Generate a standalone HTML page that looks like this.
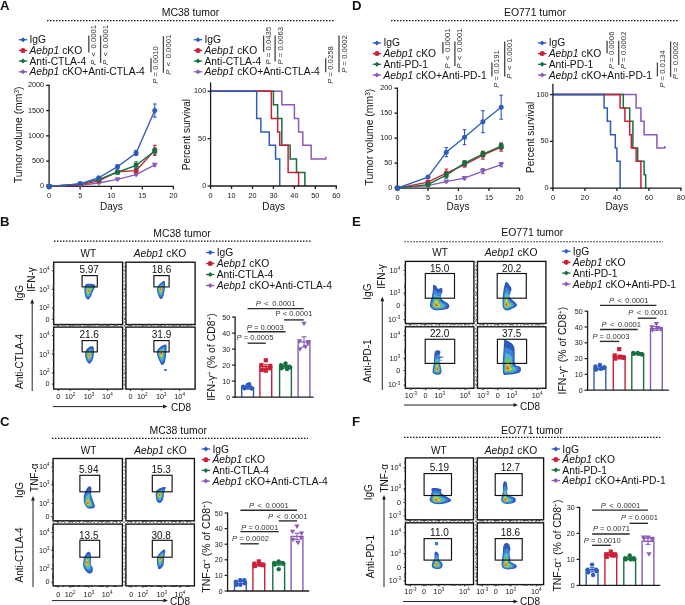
<!DOCTYPE html><html><head><meta charset="utf-8"><style>html,body{margin:0;padding:0;background:#fff;width:685px;height:605px;overflow:hidden}svg{display:block;will-change:transform}text{font-family:"Liberation Sans", sans-serif}</style></head><body>
<svg width="685" height="605" viewBox="0 0 685 605">
<defs><filter id="bl" x="-20%" y="-20%" width="140%" height="140%"><feGaussianBlur stdDeviation="0.35"/></filter></defs><rect width="685" height="605" fill="#fff"/><text x="0.00" y="9.70" font-size="13.2" text-anchor="start" font-weight="bold" fill="#111" style="">A</text>
<text x="190.50" y="16.00" font-size="10.45" text-anchor="middle" font-weight="normal" fill="#111" style="">MC38 tumor</text>
<line x1="47.00" y1="20.60" x2="334.00" y2="20.60" stroke="#111" stroke-width="1.1" stroke-dasharray="1.5 1.5"/>
<line x1="18.80" y1="39.70" x2="27.20" y2="39.70" stroke="#2e5cbe" stroke-width="1.3" />
<path d="M20.50,39.70 L23.00,37.20 L25.50,39.70 L23.00,42.20 Z" fill="#2e5cbe"/>
<text x="29.50" y="43.20" font-size="10.30" fill="#111">IgG</text>
<line x1="18.80" y1="50.40" x2="27.20" y2="50.40" stroke="#cc2038" stroke-width="1.3" />
<circle cx="23.00" cy="50.40" r="2.5" fill="#cc2038"/>
<text x="29.50" y="53.90" font-size="10.30" fill="#111"><tspan font-style="italic">Aebp1</tspan> cKO</text>
<line x1="18.80" y1="61.10" x2="27.20" y2="61.10" stroke="#177040" stroke-width="1.3" />
<path d="M20.50,61.10 L23.00,58.60 L25.50,61.10 L23.00,63.60 Z" fill="#177040"/>
<text x="29.50" y="64.60" font-size="10.30" fill="#111">Anti-CTLA-4</text>
<line x1="18.80" y1="71.80" x2="27.20" y2="71.80" stroke="#8a5cb8" stroke-width="1.3" />
<path d="M20.50,71.80 L23.00,69.30 L25.50,71.80 L23.00,74.30 Z" fill="#8a5cb8"/>
<text x="29.50" y="75.30" font-size="10.30" fill="#111"><tspan font-style="italic">Aebp1</tspan> cKO+Anti-CTLA-4</text>
<line x1="193.80" y1="39.70" x2="202.20" y2="39.70" stroke="#2e5cbe" stroke-width="1.3" />
<path d="M195.50,39.70 L198.00,37.20 L200.50,39.70 L198.00,42.20 Z" fill="#2e5cbe"/>
<text x="204.50" y="43.20" font-size="10.30" fill="#111">IgG</text>
<line x1="193.80" y1="50.40" x2="202.20" y2="50.40" stroke="#cc2038" stroke-width="1.3" />
<circle cx="198.00" cy="50.40" r="2.5" fill="#cc2038"/>
<text x="204.50" y="53.90" font-size="10.30" fill="#111"><tspan font-style="italic">Aebp1</tspan> cKO</text>
<line x1="193.80" y1="61.10" x2="202.20" y2="61.10" stroke="#177040" stroke-width="1.3" />
<path d="M195.50,61.10 L198.00,58.60 L200.50,61.10 L198.00,63.60 Z" fill="#177040"/>
<text x="204.50" y="64.60" font-size="10.30" fill="#111">Anti-CTLA-4</text>
<line x1="193.80" y1="71.80" x2="202.20" y2="71.80" stroke="#8a5cb8" stroke-width="1.3" />
<path d="M195.50,71.80 L198.00,69.30 L200.50,71.80 L198.00,74.30 Z" fill="#8a5cb8"/>
<text x="204.50" y="75.30" font-size="10.30" fill="#111"><tspan font-style="italic">Aebp1</tspan> cKO+Anti-CTLA-4</text>
<line x1="88.80" y1="35.50" x2="88.80" y2="52.50" stroke="#444" stroke-width="1.3" />
<text x="0" y="0" font-size="7.7" text-anchor="middle" fill="#333" transform="translate(96.00 45.00) rotate(-90)"><tspan font-style="italic">P</tspan> <tspan dx="1.3">&lt;</tspan><tspan dx="1.3"> 0.0001</tspan></text>
<line x1="100.60" y1="35.50" x2="100.60" y2="63.00" stroke="#444" stroke-width="1.3" />
<text x="0" y="0" font-size="7.7" text-anchor="middle" fill="#333" transform="translate(107.70 45.00) rotate(-90)"><tspan font-style="italic">P</tspan> <tspan dx="1.3">&lt;</tspan><tspan dx="1.3"> 0.0001</tspan></text>
<line x1="151.00" y1="58.30" x2="151.00" y2="72.20" stroke="#444" stroke-width="1.3" />
<text x="0" y="0" font-size="7.7" text-anchor="middle" fill="#333" transform="translate(158.20 65.00) rotate(-90)"><tspan font-style="italic">P</tspan> = 0.0010</text>
<line x1="163.40" y1="36.10" x2="163.40" y2="72.80" stroke="#444" stroke-width="1.3" />
<text x="0" y="0" font-size="7.7" text-anchor="middle" fill="#333" transform="translate(170.90 54.80) rotate(-90)"><tspan font-style="italic">P</tspan> <tspan dx="1.3">&lt;</tspan><tspan dx="1.3"> 0.0001</tspan></text>
<line x1="263.60" y1="35.60" x2="263.60" y2="51.80" stroke="#444" stroke-width="1.3" />
<text x="0" y="0" font-size="7.7" text-anchor="middle" fill="#333" transform="translate(271.30 45.70) rotate(-90)"><tspan font-style="italic">P</tspan> = 0.0435</text>
<line x1="275.10" y1="35.60" x2="275.10" y2="61.40" stroke="#444" stroke-width="1.3" />
<text x="0" y="0" font-size="7.7" text-anchor="middle" fill="#333" transform="translate(282.90 45.70) rotate(-90)"><tspan font-style="italic">P</tspan> = 0.0063</text>
<line x1="325.70" y1="58.30" x2="325.70" y2="72.30" stroke="#444" stroke-width="1.3" />
<text x="0" y="0" font-size="7.7" text-anchor="middle" fill="#333" transform="translate(333.20 65.00) rotate(-90)"><tspan font-style="italic">P</tspan> = 0.0258</text>
<line x1="339.00" y1="35.60" x2="339.00" y2="72.30" stroke="#444" stroke-width="1.3" />
<text x="0" y="0" font-size="7.7" text-anchor="middle" fill="#333" transform="translate(346.50 54.00) rotate(-90)"><tspan font-style="italic">P</tspan> = 0.0002</text>
<line x1="49.10" y1="84.70" x2="49.10" y2="187.00" stroke="#1c1c1c" stroke-width="1.3" />
<line x1="48.50" y1="186.40" x2="174.00" y2="186.40" stroke="#1c1c1c" stroke-width="1.3" />
<line x1="46.10" y1="186.40" x2="49.10" y2="186.40" stroke="#1c1c1c" stroke-width="1.3" />
<text x="44.10" y="188.40" font-size="7.25" text-anchor="end" font-weight="normal" fill="#151515" style="">0</text>
<line x1="46.10" y1="161.12" x2="49.10" y2="161.12" stroke="#1c1c1c" stroke-width="1.3" />
<text x="44.10" y="163.12" font-size="7.25" text-anchor="end" font-weight="normal" fill="#151515" style="">500</text>
<line x1="46.10" y1="135.85" x2="49.10" y2="135.85" stroke="#1c1c1c" stroke-width="1.3" />
<text x="44.10" y="137.85" font-size="7.25" text-anchor="end" font-weight="normal" fill="#151515" style="">1000</text>
<line x1="46.10" y1="110.58" x2="49.10" y2="110.58" stroke="#1c1c1c" stroke-width="1.3" />
<text x="44.10" y="112.58" font-size="7.25" text-anchor="end" font-weight="normal" fill="#151515" style="">1500</text>
<line x1="46.10" y1="85.30" x2="49.10" y2="85.30" stroke="#1c1c1c" stroke-width="1.3" />
<text x="44.10" y="87.30" font-size="7.25" text-anchor="end" font-weight="normal" fill="#151515" style="">2000</text>
<line x1="49.10" y1="186.40" x2="49.10" y2="189.40" stroke="#1c1c1c" stroke-width="1.3" />
<text x="49.10" y="198.00" font-size="7.25" text-anchor="middle" font-weight="normal" fill="#151515" style="">0</text>
<line x1="80.17" y1="186.40" x2="80.17" y2="189.40" stroke="#1c1c1c" stroke-width="1.3" />
<text x="80.17" y="198.00" font-size="7.25" text-anchor="middle" font-weight="normal" fill="#151515" style="">5</text>
<line x1="111.25" y1="186.40" x2="111.25" y2="189.40" stroke="#1c1c1c" stroke-width="1.3" />
<text x="111.25" y="198.00" font-size="7.25" text-anchor="middle" font-weight="normal" fill="#151515" style="">10</text>
<line x1="142.32" y1="186.40" x2="142.32" y2="189.40" stroke="#1c1c1c" stroke-width="1.3" />
<text x="142.32" y="198.00" font-size="7.25" text-anchor="middle" font-weight="normal" fill="#151515" style="">15</text>
<line x1="173.40" y1="186.40" x2="173.40" y2="189.40" stroke="#1c1c1c" stroke-width="1.3" />
<text x="173.40" y="198.00" font-size="7.25" text-anchor="middle" font-weight="normal" fill="#151515" style="">20</text>
<text x="111.40" y="209.50" font-size="10" text-anchor="middle" font-weight="normal" fill="#111" style="">Days</text>
<text x="0" y="0" font-size="10.4" text-anchor="middle" fill="#111" transform="translate(22.00 134.85) rotate(-90)">Tumor volume (mm<tspan font-size="6.5" dy="-3.5">3</tspan><tspan dy="3.5">)</tspan></text>
<polyline points="49.10,186.40 80.17,185.39 98.82,183.01 117.47,179.32 136.11,174.57 154.75,164.87" fill="none" stroke="#8a5cb8" stroke-width="1.35"/>
<path d="M46.10,184.30 L52.10,184.30 L49.10,189.40 Z" fill="#8a5cb8"/>
<line x1="80.17" y1="185.59" x2="80.17" y2="185.19" stroke="#8a5cb8" stroke-width="1.1" />
<line x1="78.38" y1="185.19" x2="81.97" y2="185.19" stroke="#8a5cb8" stroke-width="1.1" />
<line x1="78.38" y1="185.59" x2="81.97" y2="185.59" stroke="#8a5cb8" stroke-width="1.1" />
<path d="M77.17,183.29 L83.17,183.29 L80.17,188.39 Z" fill="#8a5cb8"/>
<line x1="98.82" y1="183.42" x2="98.82" y2="182.61" stroke="#8a5cb8" stroke-width="1.1" />
<line x1="97.02" y1="182.61" x2="100.62" y2="182.61" stroke="#8a5cb8" stroke-width="1.1" />
<line x1="97.02" y1="183.42" x2="100.62" y2="183.42" stroke="#8a5cb8" stroke-width="1.1" />
<path d="M95.82,180.91 L101.82,180.91 L98.82,186.01 Z" fill="#8a5cb8"/>
<line x1="117.47" y1="179.93" x2="117.47" y2="178.72" stroke="#8a5cb8" stroke-width="1.1" />
<line x1="115.67" y1="178.72" x2="119.27" y2="178.72" stroke="#8a5cb8" stroke-width="1.1" />
<line x1="115.67" y1="179.93" x2="119.27" y2="179.93" stroke="#8a5cb8" stroke-width="1.1" />
<path d="M114.47,177.22 L120.47,177.22 L117.47,182.32 Z" fill="#8a5cb8"/>
<line x1="136.11" y1="175.58" x2="136.11" y2="173.56" stroke="#8a5cb8" stroke-width="1.1" />
<line x1="134.31" y1="173.56" x2="137.91" y2="173.56" stroke="#8a5cb8" stroke-width="1.1" />
<line x1="134.31" y1="175.58" x2="137.91" y2="175.58" stroke="#8a5cb8" stroke-width="1.1" />
<path d="M133.11,172.47 L139.11,172.47 L136.11,177.57 Z" fill="#8a5cb8"/>
<line x1="154.75" y1="166.13" x2="154.75" y2="163.60" stroke="#8a5cb8" stroke-width="1.1" />
<line x1="152.95" y1="163.60" x2="156.56" y2="163.60" stroke="#8a5cb8" stroke-width="1.1" />
<line x1="152.95" y1="166.13" x2="156.56" y2="166.13" stroke="#8a5cb8" stroke-width="1.1" />
<path d="M151.75,162.77 L157.75,162.77 L154.75,167.87 Z" fill="#8a5cb8"/>
<polyline points="49.10,186.40 80.17,184.88 98.82,180.84 117.47,171.74 136.11,170.58 154.75,150.36" fill="none" stroke="#cc2038" stroke-width="1.35"/>
<circle cx="49.10" cy="186.40" r="2.5" fill="#cc2038"/>
<line x1="80.17" y1="185.29" x2="80.17" y2="184.48" stroke="#cc2038" stroke-width="1.1" />
<line x1="78.38" y1="184.48" x2="81.97" y2="184.48" stroke="#cc2038" stroke-width="1.1" />
<line x1="78.38" y1="185.29" x2="81.97" y2="185.29" stroke="#cc2038" stroke-width="1.1" />
<circle cx="80.17" cy="184.88" r="2.5" fill="#cc2038"/>
<line x1="98.82" y1="181.60" x2="98.82" y2="180.08" stroke="#cc2038" stroke-width="1.1" />
<line x1="97.02" y1="180.08" x2="100.62" y2="180.08" stroke="#cc2038" stroke-width="1.1" />
<line x1="97.02" y1="181.60" x2="100.62" y2="181.60" stroke="#cc2038" stroke-width="1.1" />
<circle cx="98.82" cy="180.84" r="2.5" fill="#cc2038"/>
<line x1="117.47" y1="173.26" x2="117.47" y2="170.22" stroke="#cc2038" stroke-width="1.1" />
<line x1="115.67" y1="170.22" x2="119.27" y2="170.22" stroke="#cc2038" stroke-width="1.1" />
<line x1="115.67" y1="173.26" x2="119.27" y2="173.26" stroke="#cc2038" stroke-width="1.1" />
<circle cx="117.47" cy="171.74" r="2.5" fill="#cc2038"/>
<line x1="136.11" y1="172.60" x2="136.11" y2="168.56" stroke="#cc2038" stroke-width="1.1" />
<line x1="134.31" y1="168.56" x2="137.91" y2="168.56" stroke="#cc2038" stroke-width="1.1" />
<line x1="134.31" y1="172.60" x2="137.91" y2="172.60" stroke="#cc2038" stroke-width="1.1" />
<circle cx="136.11" cy="170.58" r="2.5" fill="#cc2038"/>
<line x1="154.75" y1="155.41" x2="154.75" y2="145.30" stroke="#cc2038" stroke-width="1.1" />
<line x1="152.95" y1="145.30" x2="156.56" y2="145.30" stroke="#cc2038" stroke-width="1.1" />
<line x1="152.95" y1="155.41" x2="156.56" y2="155.41" stroke="#cc2038" stroke-width="1.1" />
<circle cx="154.75" cy="150.36" r="2.5" fill="#cc2038"/>
<polyline points="49.10,186.40 80.17,183.87 98.82,179.32 117.47,172.25 136.11,165.37 154.75,151.01" fill="none" stroke="#177040" stroke-width="1.35"/>
<rect x="46.73" y="184.03" width="4.75" height="4.75" fill="#177040"/>
<line x1="80.17" y1="184.38" x2="80.17" y2="183.37" stroke="#177040" stroke-width="1.1" />
<line x1="78.38" y1="183.37" x2="81.97" y2="183.37" stroke="#177040" stroke-width="1.1" />
<line x1="78.38" y1="184.38" x2="81.97" y2="184.38" stroke="#177040" stroke-width="1.1" />
<rect x="77.80" y="181.50" width="4.75" height="4.75" fill="#177040"/>
<line x1="98.82" y1="180.33" x2="98.82" y2="178.31" stroke="#177040" stroke-width="1.1" />
<line x1="97.02" y1="178.31" x2="100.62" y2="178.31" stroke="#177040" stroke-width="1.1" />
<line x1="97.02" y1="180.33" x2="100.62" y2="180.33" stroke="#177040" stroke-width="1.1" />
<rect x="96.44" y="176.95" width="4.75" height="4.75" fill="#177040"/>
<line x1="117.47" y1="173.76" x2="117.47" y2="170.73" stroke="#177040" stroke-width="1.1" />
<line x1="115.67" y1="170.73" x2="119.27" y2="170.73" stroke="#177040" stroke-width="1.1" />
<line x1="115.67" y1="173.76" x2="119.27" y2="173.76" stroke="#177040" stroke-width="1.1" />
<rect x="115.09" y="169.87" width="4.75" height="4.75" fill="#177040"/>
<line x1="136.11" y1="168.91" x2="136.11" y2="161.83" stroke="#177040" stroke-width="1.1" />
<line x1="134.31" y1="161.83" x2="137.91" y2="161.83" stroke="#177040" stroke-width="1.1" />
<line x1="134.31" y1="168.91" x2="137.91" y2="168.91" stroke="#177040" stroke-width="1.1" />
<rect x="133.73" y="163.00" width="4.75" height="4.75" fill="#177040"/>
<line x1="154.75" y1="154.05" x2="154.75" y2="147.98" stroke="#177040" stroke-width="1.1" />
<line x1="152.95" y1="147.98" x2="156.56" y2="147.98" stroke="#177040" stroke-width="1.1" />
<line x1="152.95" y1="154.05" x2="156.56" y2="154.05" stroke="#177040" stroke-width="1.1" />
<rect x="152.38" y="148.64" width="4.75" height="4.75" fill="#177040"/>
<polyline points="49.10,186.40 80.17,183.82 98.82,177.71 117.47,166.69 136.11,152.99 154.75,110.58" fill="none" stroke="#2e5cbe" stroke-width="1.35"/>
<circle cx="49.10" cy="186.40" r="2.5" fill="#2e5cbe"/>
<line x1="80.17" y1="184.33" x2="80.17" y2="183.32" stroke="#2e5cbe" stroke-width="1.1" />
<line x1="78.38" y1="183.32" x2="81.97" y2="183.32" stroke="#2e5cbe" stroke-width="1.1" />
<line x1="78.38" y1="184.33" x2="81.97" y2="184.33" stroke="#2e5cbe" stroke-width="1.1" />
<circle cx="80.17" cy="183.82" r="2.5" fill="#2e5cbe"/>
<line x1="98.82" y1="178.72" x2="98.82" y2="176.69" stroke="#2e5cbe" stroke-width="1.1" />
<line x1="97.02" y1="176.69" x2="100.62" y2="176.69" stroke="#2e5cbe" stroke-width="1.1" />
<line x1="97.02" y1="178.72" x2="100.62" y2="178.72" stroke="#2e5cbe" stroke-width="1.1" />
<circle cx="98.82" cy="177.71" r="2.5" fill="#2e5cbe"/>
<line x1="117.47" y1="168.71" x2="117.47" y2="164.66" stroke="#2e5cbe" stroke-width="1.1" />
<line x1="115.67" y1="164.66" x2="119.27" y2="164.66" stroke="#2e5cbe" stroke-width="1.1" />
<line x1="115.67" y1="168.71" x2="119.27" y2="168.71" stroke="#2e5cbe" stroke-width="1.1" />
<circle cx="117.47" cy="166.69" r="2.5" fill="#2e5cbe"/>
<line x1="136.11" y1="155.51" x2="136.11" y2="150.46" stroke="#2e5cbe" stroke-width="1.1" />
<line x1="134.31" y1="150.46" x2="137.91" y2="150.46" stroke="#2e5cbe" stroke-width="1.1" />
<line x1="134.31" y1="155.51" x2="137.91" y2="155.51" stroke="#2e5cbe" stroke-width="1.1" />
<circle cx="136.11" cy="152.99" r="2.5" fill="#2e5cbe"/>
<line x1="154.75" y1="117.15" x2="154.75" y2="104.00" stroke="#2e5cbe" stroke-width="1.1" />
<line x1="152.95" y1="104.00" x2="156.56" y2="104.00" stroke="#2e5cbe" stroke-width="1.1" />
<line x1="152.95" y1="117.15" x2="156.56" y2="117.15" stroke="#2e5cbe" stroke-width="1.1" />
<circle cx="154.75" cy="110.58" r="2.5" fill="#2e5cbe"/>
<path d="M210.60,91.30 H281.83 V104.84 H294.40 V118.38 H298.59 V131.93 H302.78 V145.37 H311.16 V158.92 H325.82 V158.92 H325.82 V156.64" stroke="#8a5cb8" stroke-width="1.5" fill="none" stroke-linejoin="miter"/>
<path d="M210.60,91.30 H273.45 V104.84 H277.64 V118.38 H281.83 V145.37 H290.21 V158.92 H296.50 V172.46 H304.88 V186.00" stroke="#177040" stroke-width="1.5" fill="none" stroke-linejoin="miter"/>
<path d="M210.60,91.30 H271.36 V118.38 H277.64 V131.93 H279.74 V145.37 H288.12 V172.46 H298.59 V186.00" stroke="#cc2038" stroke-width="1.5" fill="none" stroke-linejoin="miter"/>
<path d="M210.60,91.30 H256.69 V118.38 H260.88 V131.93 H269.26 V145.37 H275.55 V158.92 H279.74 V186.00" stroke="#2e5cbe" stroke-width="1.5" fill="none" stroke-linejoin="miter"/>
<line x1="210.60" y1="82.40" x2="210.60" y2="186.60" stroke="#1c1c1c" stroke-width="1.3" />
<line x1="210.00" y1="186.00" x2="336.90" y2="186.00" stroke="#1c1c1c" stroke-width="1.3" />
<line x1="207.60" y1="186.00" x2="210.60" y2="186.00" stroke="#1c1c1c" stroke-width="1.3" />
<text x="206.20" y="188.00" font-size="7.25" text-anchor="end" font-weight="normal" fill="#151515" style="">0</text>
<line x1="207.60" y1="138.65" x2="210.60" y2="138.65" stroke="#1c1c1c" stroke-width="1.3" />
<text x="206.20" y="140.65" font-size="7.25" text-anchor="end" font-weight="normal" fill="#151515" style="">50</text>
<line x1="207.60" y1="91.30" x2="210.60" y2="91.30" stroke="#1c1c1c" stroke-width="1.3" />
<text x="206.20" y="93.30" font-size="7.25" text-anchor="end" font-weight="normal" fill="#151515" style="">100</text>
<line x1="210.60" y1="186.00" x2="210.60" y2="189.00" stroke="#1c1c1c" stroke-width="1.3" />
<text x="210.60" y="197.60" font-size="7.25" text-anchor="middle" font-weight="normal" fill="#151515" style="">0</text>
<line x1="231.55" y1="186.00" x2="231.55" y2="189.00" stroke="#1c1c1c" stroke-width="1.3" />
<text x="231.55" y="197.60" font-size="7.25" text-anchor="middle" font-weight="normal" fill="#151515" style="">10</text>
<line x1="252.50" y1="186.00" x2="252.50" y2="189.00" stroke="#1c1c1c" stroke-width="1.3" />
<text x="252.50" y="197.60" font-size="7.25" text-anchor="middle" font-weight="normal" fill="#151515" style="">20</text>
<line x1="273.45" y1="186.00" x2="273.45" y2="189.00" stroke="#1c1c1c" stroke-width="1.3" />
<text x="273.45" y="197.60" font-size="7.25" text-anchor="middle" font-weight="normal" fill="#151515" style="">30</text>
<line x1="294.40" y1="186.00" x2="294.40" y2="189.00" stroke="#1c1c1c" stroke-width="1.3" />
<text x="294.40" y="197.60" font-size="7.25" text-anchor="middle" font-weight="normal" fill="#151515" style="">40</text>
<line x1="315.35" y1="186.00" x2="315.35" y2="189.00" stroke="#1c1c1c" stroke-width="1.3" />
<text x="315.35" y="197.60" font-size="7.25" text-anchor="middle" font-weight="normal" fill="#151515" style="">50</text>
<line x1="336.30" y1="186.00" x2="336.30" y2="189.00" stroke="#1c1c1c" stroke-width="1.3" />
<text x="336.30" y="197.60" font-size="7.25" text-anchor="middle" font-weight="normal" fill="#151515" style="">60</text>
<text x="273.70" y="209.50" font-size="10" text-anchor="middle" font-weight="normal" fill="#111" style="">Days</text>
<text x="0" y="0" font-size="10" text-anchor="middle" fill="#111" transform="translate(189.50 134.65) rotate(-90)">Percent survival</text>
<text x="352.00" y="9.70" font-size="13.2" text-anchor="start" font-weight="bold" fill="#111" style="">D</text>
<text x="535.00" y="16.00" font-size="10.45" text-anchor="middle" font-weight="normal" fill="#111" style="">EO771 tumor</text>
<line x1="391.00" y1="20.60" x2="679.00" y2="20.60" stroke="#111" stroke-width="1.1" stroke-dasharray="1.5 1.5"/>
<line x1="372.70" y1="42.90" x2="381.10" y2="42.90" stroke="#2e5cbe" stroke-width="1.3" />
<path d="M374.40,42.90 L376.90,40.40 L379.40,42.90 L376.90,45.40 Z" fill="#2e5cbe"/>
<text x="383.40" y="46.40" font-size="10.30" fill="#111">IgG</text>
<line x1="372.70" y1="53.60" x2="381.10" y2="53.60" stroke="#cc2038" stroke-width="1.3" />
<circle cx="376.90" cy="53.60" r="2.5" fill="#cc2038"/>
<text x="383.40" y="57.10" font-size="10.30" fill="#111"><tspan font-style="italic">Aebp1</tspan> cKO</text>
<line x1="372.70" y1="64.30" x2="381.10" y2="64.30" stroke="#177040" stroke-width="1.3" />
<path d="M374.40,64.30 L376.90,61.80 L379.40,64.30 L376.90,66.80 Z" fill="#177040"/>
<text x="383.40" y="67.80" font-size="10.30" fill="#111">Anti-PD-1</text>
<line x1="372.70" y1="75.00" x2="381.10" y2="75.00" stroke="#8a5cb8" stroke-width="1.3" />
<path d="M374.40,75.00 L376.90,72.50 L379.40,75.00 L376.90,77.50 Z" fill="#8a5cb8"/>
<text x="383.40" y="78.50" font-size="10.30" fill="#111"><tspan font-style="italic">Aebp1</tspan> cKO+Anti-PD-1</text>
<line x1="538.00" y1="42.90" x2="546.40" y2="42.90" stroke="#2e5cbe" stroke-width="1.3" />
<path d="M539.70,42.90 L542.20,40.40 L544.70,42.90 L542.20,45.40 Z" fill="#2e5cbe"/>
<text x="548.70" y="46.40" font-size="10.30" fill="#111">IgG</text>
<line x1="538.00" y1="53.60" x2="546.40" y2="53.60" stroke="#cc2038" stroke-width="1.3" />
<circle cx="542.20" cy="53.60" r="2.5" fill="#cc2038"/>
<text x="548.70" y="57.10" font-size="10.30" fill="#111"><tspan font-style="italic">Aebp1</tspan> cKO</text>
<line x1="538.00" y1="64.30" x2="546.40" y2="64.30" stroke="#177040" stroke-width="1.3" />
<path d="M539.70,64.30 L542.20,61.80 L544.70,64.30 L542.20,66.80 Z" fill="#177040"/>
<text x="548.70" y="67.80" font-size="10.30" fill="#111">Anti-PD-1</text>
<line x1="538.00" y1="75.00" x2="546.40" y2="75.00" stroke="#8a5cb8" stroke-width="1.3" />
<path d="M539.70,75.00 L542.20,72.50 L544.70,75.00 L542.20,77.50 Z" fill="#8a5cb8"/>
<text x="548.70" y="78.50" font-size="10.30" fill="#111"><tspan font-style="italic">Aebp1</tspan> cKO+Anti-PD-1</text>
<line x1="442.90" y1="42.00" x2="442.90" y2="53.60" stroke="#444" stroke-width="1.3" />
<text x="0" y="0" font-size="7.7" text-anchor="middle" fill="#333" transform="translate(449.90 48.50) rotate(-90)"><tspan font-style="italic">P</tspan> <tspan dx="1.3">&lt;</tspan><tspan dx="1.3"> 0.0001</tspan></text>
<line x1="454.90" y1="41.60" x2="454.90" y2="66.00" stroke="#444" stroke-width="1.3" />
<text x="0" y="0" font-size="7.7" text-anchor="middle" fill="#333" transform="translate(462.20 48.50) rotate(-90)"><tspan font-style="italic">P</tspan> <tspan dx="1.3">&lt;</tspan><tspan dx="1.3"> 0.0001</tspan></text>
<line x1="491.90" y1="62.60" x2="491.90" y2="76.60" stroke="#444" stroke-width="1.3" />
<text x="0" y="0" font-size="7.7" text-anchor="middle" fill="#333" transform="translate(499.20 69.00) rotate(-90)"><tspan font-style="italic">P</tspan> = 0.0191</text>
<line x1="504.70" y1="41.60" x2="504.70" y2="76.40" stroke="#444" stroke-width="1.3" />
<text x="0" y="0" font-size="7.7" text-anchor="middle" fill="#333" transform="translate(511.90 58.70) rotate(-90)"><tspan font-style="italic">P</tspan> <tspan dx="1.3">&lt;</tspan><tspan dx="1.3"> 0.0001</tspan></text>
<line x1="607.10" y1="40.80" x2="607.10" y2="53.30" stroke="#444" stroke-width="1.3" />
<text x="0" y="0" font-size="7.7" text-anchor="middle" fill="#333" transform="translate(614.40 50.30) rotate(-90)"><tspan font-style="italic">P</tspan> = 0.0006</text>
<line x1="618.70" y1="40.80" x2="618.70" y2="65.00" stroke="#444" stroke-width="1.3" />
<text x="0" y="0" font-size="7.7" text-anchor="middle" fill="#333" transform="translate(625.90 50.30) rotate(-90)"><tspan font-style="italic">P</tspan> = 0.0002</text>
<line x1="657.40" y1="62.50" x2="657.40" y2="76.40" stroke="#444" stroke-width="1.3" />
<text x="0" y="0" font-size="7.7" text-anchor="middle" fill="#333" transform="translate(664.50 69.00) rotate(-90)"><tspan font-style="italic">P</tspan> = 0.0134</text>
<line x1="670.60" y1="41.40" x2="670.60" y2="76.90" stroke="#444" stroke-width="1.3" />
<text x="0" y="0" font-size="7.7" text-anchor="middle" fill="#333" transform="translate(678.30 60.50) rotate(-90)"><tspan font-style="italic">P</tspan> = 0.0002</text>
<line x1="397.40" y1="87.60" x2="397.40" y2="188.70" stroke="#1c1c1c" stroke-width="1.3" />
<line x1="396.80" y1="188.10" x2="520.10" y2="188.10" stroke="#1c1c1c" stroke-width="1.3" />
<line x1="394.40" y1="188.10" x2="397.40" y2="188.10" stroke="#1c1c1c" stroke-width="1.3" />
<text x="392.40" y="190.10" font-size="7.25" text-anchor="end" font-weight="normal" fill="#151515" style="">0</text>
<line x1="394.40" y1="163.12" x2="397.40" y2="163.12" stroke="#1c1c1c" stroke-width="1.3" />
<text x="392.40" y="165.12" font-size="7.25" text-anchor="end" font-weight="normal" fill="#151515" style="">50</text>
<line x1="394.40" y1="138.15" x2="397.40" y2="138.15" stroke="#1c1c1c" stroke-width="1.3" />
<text x="392.40" y="140.15" font-size="7.25" text-anchor="end" font-weight="normal" fill="#151515" style="">100</text>
<line x1="394.40" y1="113.17" x2="397.40" y2="113.17" stroke="#1c1c1c" stroke-width="1.3" />
<text x="392.40" y="115.17" font-size="7.25" text-anchor="end" font-weight="normal" fill="#151515" style="">150</text>
<line x1="394.40" y1="88.20" x2="397.40" y2="88.20" stroke="#1c1c1c" stroke-width="1.3" />
<text x="392.40" y="90.20" font-size="7.25" text-anchor="end" font-weight="normal" fill="#151515" style="">200</text>
<line x1="397.40" y1="188.10" x2="397.40" y2="191.10" stroke="#1c1c1c" stroke-width="1.3" />
<text x="397.40" y="199.70" font-size="7.25" text-anchor="middle" font-weight="normal" fill="#151515" style="">0</text>
<line x1="427.92" y1="188.10" x2="427.92" y2="191.10" stroke="#1c1c1c" stroke-width="1.3" />
<text x="427.92" y="199.70" font-size="7.25" text-anchor="middle" font-weight="normal" fill="#151515" style="">5</text>
<line x1="458.45" y1="188.10" x2="458.45" y2="191.10" stroke="#1c1c1c" stroke-width="1.3" />
<text x="458.45" y="199.70" font-size="7.25" text-anchor="middle" font-weight="normal" fill="#151515" style="">10</text>
<line x1="488.97" y1="188.10" x2="488.97" y2="191.10" stroke="#1c1c1c" stroke-width="1.3" />
<text x="488.97" y="199.70" font-size="7.25" text-anchor="middle" font-weight="normal" fill="#151515" style="">15</text>
<line x1="519.50" y1="188.10" x2="519.50" y2="191.10" stroke="#1c1c1c" stroke-width="1.3" />
<text x="519.50" y="199.70" font-size="7.25" text-anchor="middle" font-weight="normal" fill="#151515" style="">20</text>
<text x="458.00" y="209.90" font-size="10" text-anchor="middle" font-weight="normal" fill="#111" style="">Days</text>
<text x="0" y="0" font-size="10.4" text-anchor="middle" fill="#111" transform="translate(373.00 137.15) rotate(-90)">Tumor volume (mm<tspan font-size="6.5" dy="-3.5">3</tspan><tspan dy="3.5">)</tspan></text>
<polyline points="397.40,188.10 427.92,185.60 446.24,181.61 464.55,178.11 482.87,171.12 501.19,164.62" fill="none" stroke="#8a5cb8" stroke-width="1.35"/>
<path d="M394.40,186.00 L400.40,186.00 L397.40,191.10 Z" fill="#8a5cb8"/>
<line x1="427.92" y1="186.10" x2="427.92" y2="185.10" stroke="#8a5cb8" stroke-width="1.1" />
<line x1="426.12" y1="185.10" x2="429.72" y2="185.10" stroke="#8a5cb8" stroke-width="1.1" />
<line x1="426.12" y1="186.10" x2="429.72" y2="186.10" stroke="#8a5cb8" stroke-width="1.1" />
<path d="M424.92,183.50 L430.92,183.50 L427.92,188.60 Z" fill="#8a5cb8"/>
<line x1="446.24" y1="182.61" x2="446.24" y2="180.61" stroke="#8a5cb8" stroke-width="1.1" />
<line x1="444.44" y1="180.61" x2="448.04" y2="180.61" stroke="#8a5cb8" stroke-width="1.1" />
<line x1="444.44" y1="182.61" x2="448.04" y2="182.61" stroke="#8a5cb8" stroke-width="1.1" />
<path d="M443.24,179.51 L449.24,179.51 L446.24,184.61 Z" fill="#8a5cb8"/>
<line x1="464.55" y1="179.61" x2="464.55" y2="176.61" stroke="#8a5cb8" stroke-width="1.1" />
<line x1="462.75" y1="176.61" x2="466.35" y2="176.61" stroke="#8a5cb8" stroke-width="1.1" />
<line x1="462.75" y1="179.61" x2="466.35" y2="179.61" stroke="#8a5cb8" stroke-width="1.1" />
<path d="M461.55,176.01 L467.55,176.01 L464.55,181.11 Z" fill="#8a5cb8"/>
<line x1="482.87" y1="173.61" x2="482.87" y2="168.62" stroke="#8a5cb8" stroke-width="1.1" />
<line x1="481.07" y1="168.62" x2="484.67" y2="168.62" stroke="#8a5cb8" stroke-width="1.1" />
<line x1="481.07" y1="173.61" x2="484.67" y2="173.61" stroke="#8a5cb8" stroke-width="1.1" />
<path d="M479.87,169.02 L485.87,169.02 L482.87,174.12 Z" fill="#8a5cb8"/>
<line x1="501.19" y1="166.62" x2="501.19" y2="162.63" stroke="#8a5cb8" stroke-width="1.1" />
<line x1="499.38" y1="162.63" x2="502.99" y2="162.63" stroke="#8a5cb8" stroke-width="1.1" />
<line x1="499.38" y1="166.62" x2="502.99" y2="166.62" stroke="#8a5cb8" stroke-width="1.1" />
<path d="M498.19,162.52 L504.19,162.52 L501.19,167.62 Z" fill="#8a5cb8"/>
<polyline points="397.40,188.10 427.92,182.11 446.24,173.12 464.55,164.62 482.87,155.13 501.19,147.14" fill="none" stroke="#cc2038" stroke-width="1.35"/>
<circle cx="397.40" cy="188.10" r="2.5" fill="#cc2038"/>
<line x1="427.92" y1="183.10" x2="427.92" y2="181.11" stroke="#cc2038" stroke-width="1.1" />
<line x1="426.12" y1="181.11" x2="429.72" y2="181.11" stroke="#cc2038" stroke-width="1.1" />
<line x1="426.12" y1="183.10" x2="429.72" y2="183.10" stroke="#cc2038" stroke-width="1.1" />
<circle cx="427.92" cy="182.11" r="2.5" fill="#cc2038"/>
<line x1="446.24" y1="177.11" x2="446.24" y2="169.12" stroke="#cc2038" stroke-width="1.1" />
<line x1="444.44" y1="169.12" x2="448.04" y2="169.12" stroke="#cc2038" stroke-width="1.1" />
<line x1="444.44" y1="177.11" x2="448.04" y2="177.11" stroke="#cc2038" stroke-width="1.1" />
<circle cx="446.24" cy="173.12" r="2.5" fill="#cc2038"/>
<line x1="464.55" y1="167.12" x2="464.55" y2="162.13" stroke="#cc2038" stroke-width="1.1" />
<line x1="462.75" y1="162.13" x2="466.35" y2="162.13" stroke="#cc2038" stroke-width="1.1" />
<line x1="462.75" y1="167.12" x2="466.35" y2="167.12" stroke="#cc2038" stroke-width="1.1" />
<circle cx="464.55" cy="164.62" r="2.5" fill="#cc2038"/>
<line x1="482.87" y1="159.13" x2="482.87" y2="151.14" stroke="#cc2038" stroke-width="1.1" />
<line x1="481.07" y1="151.14" x2="484.67" y2="151.14" stroke="#cc2038" stroke-width="1.1" />
<line x1="481.07" y1="159.13" x2="484.67" y2="159.13" stroke="#cc2038" stroke-width="1.1" />
<circle cx="482.87" cy="155.13" r="2.5" fill="#cc2038"/>
<line x1="501.19" y1="151.14" x2="501.19" y2="143.14" stroke="#cc2038" stroke-width="1.1" />
<line x1="499.38" y1="143.14" x2="502.99" y2="143.14" stroke="#cc2038" stroke-width="1.1" />
<line x1="499.38" y1="151.14" x2="502.99" y2="151.14" stroke="#cc2038" stroke-width="1.1" />
<circle cx="501.19" cy="147.14" r="2.5" fill="#cc2038"/>
<polyline points="397.40,188.10 427.92,184.60 446.24,175.11 464.55,163.12 482.87,154.13 501.19,146.14" fill="none" stroke="#177040" stroke-width="1.35"/>
<rect x="395.02" y="185.72" width="4.75" height="4.75" fill="#177040"/>
<line x1="427.92" y1="185.60" x2="427.92" y2="183.60" stroke="#177040" stroke-width="1.1" />
<line x1="426.12" y1="183.60" x2="429.72" y2="183.60" stroke="#177040" stroke-width="1.1" />
<line x1="426.12" y1="185.60" x2="429.72" y2="185.60" stroke="#177040" stroke-width="1.1" />
<rect x="425.55" y="182.23" width="4.75" height="4.75" fill="#177040"/>
<line x1="446.24" y1="178.11" x2="446.24" y2="172.12" stroke="#177040" stroke-width="1.1" />
<line x1="444.44" y1="172.12" x2="448.04" y2="172.12" stroke="#177040" stroke-width="1.1" />
<line x1="444.44" y1="178.11" x2="448.04" y2="178.11" stroke="#177040" stroke-width="1.1" />
<rect x="443.87" y="172.74" width="4.75" height="4.75" fill="#177040"/>
<line x1="464.55" y1="165.62" x2="464.55" y2="160.63" stroke="#177040" stroke-width="1.1" />
<line x1="462.75" y1="160.63" x2="466.35" y2="160.63" stroke="#177040" stroke-width="1.1" />
<line x1="462.75" y1="165.62" x2="466.35" y2="165.62" stroke="#177040" stroke-width="1.1" />
<rect x="462.18" y="160.75" width="4.75" height="4.75" fill="#177040"/>
<line x1="482.87" y1="156.63" x2="482.87" y2="151.64" stroke="#177040" stroke-width="1.1" />
<line x1="481.07" y1="151.64" x2="484.67" y2="151.64" stroke="#177040" stroke-width="1.1" />
<line x1="481.07" y1="156.63" x2="484.67" y2="156.63" stroke="#177040" stroke-width="1.1" />
<rect x="480.50" y="151.76" width="4.75" height="4.75" fill="#177040"/>
<line x1="501.19" y1="149.14" x2="501.19" y2="143.14" stroke="#177040" stroke-width="1.1" />
<line x1="499.38" y1="143.14" x2="502.99" y2="143.14" stroke="#177040" stroke-width="1.1" />
<line x1="499.38" y1="149.14" x2="502.99" y2="149.14" stroke="#177040" stroke-width="1.1" />
<rect x="498.81" y="143.77" width="4.75" height="4.75" fill="#177040"/>
<polyline points="397.40,188.10 427.92,177.11 446.24,152.14 464.55,137.15 482.87,121.67 501.19,107.18" fill="none" stroke="#2e5cbe" stroke-width="1.35"/>
<circle cx="397.40" cy="188.10" r="2.5" fill="#2e5cbe"/>
<line x1="427.92" y1="178.11" x2="427.92" y2="176.11" stroke="#2e5cbe" stroke-width="1.1" />
<line x1="426.12" y1="176.11" x2="429.72" y2="176.11" stroke="#2e5cbe" stroke-width="1.1" />
<line x1="426.12" y1="178.11" x2="429.72" y2="178.11" stroke="#2e5cbe" stroke-width="1.1" />
<circle cx="427.92" cy="177.11" r="2.5" fill="#2e5cbe"/>
<line x1="446.24" y1="156.63" x2="446.24" y2="147.64" stroke="#2e5cbe" stroke-width="1.1" />
<line x1="444.44" y1="147.64" x2="448.04" y2="147.64" stroke="#2e5cbe" stroke-width="1.1" />
<line x1="444.44" y1="156.63" x2="448.04" y2="156.63" stroke="#2e5cbe" stroke-width="1.1" />
<circle cx="446.24" cy="152.14" r="2.5" fill="#2e5cbe"/>
<line x1="464.55" y1="144.64" x2="464.55" y2="129.66" stroke="#2e5cbe" stroke-width="1.1" />
<line x1="462.75" y1="129.66" x2="466.35" y2="129.66" stroke="#2e5cbe" stroke-width="1.1" />
<line x1="462.75" y1="144.64" x2="466.35" y2="144.64" stroke="#2e5cbe" stroke-width="1.1" />
<circle cx="464.55" cy="137.15" r="2.5" fill="#2e5cbe"/>
<line x1="482.87" y1="132.66" x2="482.87" y2="110.68" stroke="#2e5cbe" stroke-width="1.1" />
<line x1="481.07" y1="110.68" x2="484.67" y2="110.68" stroke="#2e5cbe" stroke-width="1.1" />
<line x1="481.07" y1="132.66" x2="484.67" y2="132.66" stroke="#2e5cbe" stroke-width="1.1" />
<circle cx="482.87" cy="121.67" r="2.5" fill="#2e5cbe"/>
<line x1="501.19" y1="119.17" x2="501.19" y2="95.19" stroke="#2e5cbe" stroke-width="1.1" />
<line x1="499.38" y1="95.19" x2="502.99" y2="95.19" stroke="#2e5cbe" stroke-width="1.1" />
<line x1="499.38" y1="119.17" x2="502.99" y2="119.17" stroke="#2e5cbe" stroke-width="1.1" />
<circle cx="501.19" cy="107.18" r="2.5" fill="#2e5cbe"/>
<path d="M552.90,94.60 H636.10 V107.97 H640.90 V121.34 H644.10 V134.71 H656.90 V147.99 H664.90 V147.99 H664.90 V146.02" stroke="#8a5cb8" stroke-width="1.5" fill="none" stroke-linejoin="miter"/>
<path d="M552.90,94.60 H623.30 V107.97 H629.70 V121.34 H632.90 V147.99 H637.70 V161.36 H644.10 V174.73 H645.70 V188.10" stroke="#177040" stroke-width="1.5" fill="none" stroke-linejoin="miter"/>
<path d="M552.90,94.60 H620.10 V107.97 H624.90 V121.34 H629.70 V134.71 H631.30 V147.99 H636.10 V161.36 H640.90 V188.10" stroke="#cc2038" stroke-width="1.5" fill="none" stroke-linejoin="miter"/>
<path d="M552.90,94.60 H604.10 V107.97 H607.30 V121.34 H610.50 V134.71 H615.30 V147.99 H616.90 V161.36 H620.10 V188.10" stroke="#2e5cbe" stroke-width="1.5" fill="none" stroke-linejoin="miter"/>
<line x1="552.90" y1="83.80" x2="552.90" y2="188.70" stroke="#1c1c1c" stroke-width="1.3" />
<line x1="552.30" y1="188.10" x2="681.50" y2="188.10" stroke="#1c1c1c" stroke-width="1.3" />
<line x1="549.90" y1="188.10" x2="552.90" y2="188.10" stroke="#1c1c1c" stroke-width="1.3" />
<text x="548.50" y="190.10" font-size="7.25" text-anchor="end" font-weight="normal" fill="#151515" style="">0</text>
<line x1="549.90" y1="141.35" x2="552.90" y2="141.35" stroke="#1c1c1c" stroke-width="1.3" />
<text x="548.50" y="143.35" font-size="7.25" text-anchor="end" font-weight="normal" fill="#151515" style="">50</text>
<line x1="549.90" y1="94.60" x2="552.90" y2="94.60" stroke="#1c1c1c" stroke-width="1.3" />
<text x="548.50" y="96.60" font-size="7.25" text-anchor="end" font-weight="normal" fill="#151515" style="">100</text>
<line x1="552.90" y1="188.10" x2="552.90" y2="191.10" stroke="#1c1c1c" stroke-width="1.3" />
<text x="552.90" y="199.70" font-size="7.25" text-anchor="middle" font-weight="normal" fill="#151515" style="">0</text>
<line x1="584.90" y1="188.10" x2="584.90" y2="191.10" stroke="#1c1c1c" stroke-width="1.3" />
<text x="584.90" y="199.70" font-size="7.25" text-anchor="middle" font-weight="normal" fill="#151515" style="">20</text>
<line x1="616.90" y1="188.10" x2="616.90" y2="191.10" stroke="#1c1c1c" stroke-width="1.3" />
<text x="616.90" y="199.70" font-size="7.25" text-anchor="middle" font-weight="normal" fill="#151515" style="">40</text>
<line x1="648.90" y1="188.10" x2="648.90" y2="191.10" stroke="#1c1c1c" stroke-width="1.3" />
<text x="648.90" y="199.70" font-size="7.25" text-anchor="middle" font-weight="normal" fill="#151515" style="">60</text>
<line x1="680.90" y1="188.10" x2="680.90" y2="191.10" stroke="#1c1c1c" stroke-width="1.3" />
<text x="680.90" y="199.70" font-size="7.25" text-anchor="middle" font-weight="normal" fill="#151515" style="">80</text>
<text x="616.80" y="210.20" font-size="10" text-anchor="middle" font-weight="normal" fill="#111" style="">Days</text>
<text x="0" y="0" font-size="10" text-anchor="middle" fill="#111" transform="translate(534.00 137.35) rotate(-90)">Percent survival</text>
<text x="0.00" y="225.80" font-size="13.2" text-anchor="start" font-weight="bold" fill="#111" style="">B</text>
<text x="182.00" y="236.50" font-size="10.45" text-anchor="middle" font-weight="normal" fill="#111" style="">MC38 tumor</text>
<line x1="54.00" y1="241.10" x2="311.00" y2="241.10" stroke="#111" stroke-width="1.1" stroke-dasharray="1.5 1.5"/>
<text x="88.30" y="257.40" font-size="10" text-anchor="middle" font-weight="normal" fill="#111" style="">WT</text>
<text x="160" y="257.4" font-size="10.3" text-anchor="middle" fill="#111"><tspan font-style="italic">Aebp1</tspan> cKO</text>
<g filter="url(#bl)">
<path d="M84.90,286.00 C85.42,284.37 85.98,283.87 87.70,283.70 C89.42,283.53 94.37,283.62 95.20,285.00 C96.03,286.38 93.62,289.75 92.70,292.00 C91.78,294.25 90.70,297.37 89.70,298.50 C88.70,299.63 87.55,299.63 86.70,298.80 C85.85,297.97 84.90,295.63 84.60,293.50 C84.30,291.37 84.38,287.63 84.90,286.00Z" fill="#2d59bd"/>
<path d="M85.56,287.13 C85.97,285.89 86.43,285.54 87.80,285.41 C89.17,285.29 93.13,285.34 93.80,286.38 C94.47,287.43 92.53,289.95 91.80,291.70 C91.07,293.45 90.20,295.99 89.40,296.90 C88.60,297.81 87.68,297.81 87.00,297.14 C86.32,296.47 85.56,294.57 85.32,292.90 C85.08,291.23 85.15,288.38 85.56,287.13Z" fill="#3b86d6"/>
<path d="M86.15,288.08 C86.47,287.16 86.83,286.94 87.89,286.85 C88.95,286.76 92.02,286.78 92.54,287.55 C93.06,288.31 91.56,290.11 90.99,291.43 C90.42,292.75 89.75,294.76 89.13,295.46 C88.51,296.16 87.80,296.16 87.27,295.65 C86.74,295.13 86.15,293.62 85.97,292.36 C85.78,291.10 85.83,289.00 86.15,288.08Z" fill="#52b9d6"/>
<path d="M86.62,288.77 C86.86,288.09 87.14,287.95 87.96,287.88 C88.78,287.82 91.16,287.83 91.56,288.38 C91.96,288.94 90.80,290.23 90.36,291.22 C89.92,292.21 89.40,293.80 88.92,294.34 C88.44,294.88 87.89,294.88 87.48,294.48 C87.07,294.08 86.62,292.89 86.47,291.94 C86.33,290.99 86.37,289.44 86.62,288.77Z" fill="#6cc35a"/>
<path d="M87.14,289.48 C87.31,289.06 87.49,288.99 88.04,288.95 C88.59,288.92 90.17,288.91 90.44,289.25 C90.71,289.59 89.93,290.34 89.64,290.98 C89.35,291.62 89.00,292.70 88.68,293.06 C88.36,293.42 87.99,293.42 87.72,293.16 C87.45,292.89 87.14,292.07 87.05,291.46 C86.95,290.85 86.98,289.89 87.14,289.48Z" fill="#d6d83a"/>
<path d="M87.54,289.94 C87.64,289.70 87.76,289.68 88.10,289.66 C88.44,289.64 89.43,289.63 89.60,289.82 C89.77,290.01 89.28,290.42 89.10,290.80 C88.92,291.18 88.70,291.87 88.50,292.10 C88.30,292.33 88.07,292.33 87.90,292.16 C87.73,291.99 87.54,291.47 87.48,291.10 C87.42,290.73 87.44,290.18 87.54,289.94Z" fill="#f0902a"/>
<path d="M87.84,290.24 C87.89,290.13 87.96,290.12 88.14,290.11 C88.33,290.10 88.88,290.10 88.97,290.19 C89.06,290.28 88.80,290.47 88.70,290.67 C88.59,290.86 88.48,291.26 88.37,291.38 C88.26,291.50 88.13,291.50 88.03,291.41 C87.94,291.32 87.84,291.02 87.80,290.83 C87.77,290.64 87.78,290.36 87.84,290.24Z" fill="#e52a1e"/>
</g>
<g filter="url(#bl)">
<path d="M157.40,287.00 C158.18,285.33 160.70,282.97 161.90,282.00 C163.10,281.03 164.10,280.20 164.60,281.20 C165.10,282.20 165.10,285.53 164.90,288.00 C164.70,290.47 164.15,294.17 163.40,296.00 C162.65,297.83 161.43,299.67 160.40,299.00 C159.37,298.33 157.70,294.00 157.20,292.00 C156.70,290.00 156.62,288.67 157.40,287.00Z" fill="#2d59bd"/>
<path d="M158.00,287.50 C158.63,286.23 160.64,284.49 161.60,283.76 C162.56,283.04 163.36,282.42 163.76,283.16 C164.16,283.91 164.16,286.35 164.00,288.25 C163.84,290.16 163.40,293.14 162.80,294.60 C162.20,296.06 161.23,297.53 160.40,297.00 C159.57,296.47 158.24,292.98 157.84,291.40 C157.44,289.82 157.37,288.78 158.00,287.50Z" fill="#3b86d6"/>
<path d="M158.54,287.93 C159.03,286.99 160.59,285.76 161.33,285.24 C162.07,284.72 162.69,284.27 163.00,284.81 C163.31,285.35 163.31,287.04 163.19,288.46 C163.07,289.88 162.73,292.22 162.26,293.34 C161.80,294.46 161.04,295.61 160.40,295.20 C159.76,294.79 158.73,292.07 158.42,290.86 C158.11,289.65 158.05,288.86 158.54,287.93Z" fill="#52b9d6"/>
<path d="M158.96,288.23 C159.34,287.54 160.54,286.68 161.12,286.30 C161.70,285.93 162.18,285.61 162.42,286.00 C162.66,286.38 162.66,287.55 162.56,288.61 C162.46,289.68 162.20,291.50 161.84,292.36 C161.48,293.22 160.90,294.12 160.40,293.80 C159.90,293.48 159.10,291.37 158.86,290.44 C158.62,289.51 158.58,288.92 158.96,288.23Z" fill="#6cc35a"/>
<path d="M159.44,288.55 C159.69,288.12 160.50,287.63 160.88,287.41 C161.26,287.19 161.58,287.00 161.74,287.23 C161.90,287.45 161.90,288.10 161.84,288.77 C161.78,289.44 161.60,290.67 161.36,291.24 C161.12,291.81 160.73,292.41 160.40,292.20 C160.07,291.99 159.54,290.57 159.38,289.96 C159.22,289.35 159.19,288.97 159.44,288.55Z" fill="#d6d83a"/>
<path d="M159.80,288.75 C159.96,288.51 160.46,288.26 160.70,288.14 C160.94,288.02 161.14,287.91 161.24,288.04 C161.34,288.16 161.34,288.48 161.30,288.88 C161.26,289.27 161.15,290.05 161.00,290.40 C160.85,290.75 160.61,291.13 160.40,291.00 C160.19,290.87 159.86,289.97 159.76,289.60 C159.66,289.23 159.64,289.00 159.80,288.75Z" fill="#f0902a"/>
<path d="M160.07,288.89 C160.16,288.77 160.43,288.66 160.56,288.60 C160.70,288.55 160.81,288.50 160.86,288.56 C160.92,288.61 160.92,288.74 160.90,288.94 C160.87,289.15 160.81,289.58 160.73,289.77 C160.65,289.96 160.51,290.17 160.40,290.10 C160.29,290.03 160.10,289.53 160.05,289.33 C159.99,289.13 159.98,289.01 160.07,288.89Z" fill="#e52a1e"/>
</g>
<g filter="url(#bl)">
<path d="M85.60,351.00 C86.37,349.17 88.77,347.08 90.10,346.50 C91.43,345.92 93.02,345.92 93.60,347.50 C94.18,349.08 94.02,353.50 93.60,356.00 C93.18,358.50 92.02,361.33 91.10,362.50 C90.18,363.67 89.03,363.83 88.10,363.00 C87.17,362.17 85.92,359.50 85.50,357.50 C85.08,355.50 84.83,352.83 85.60,351.00Z" fill="#2d59bd"/>
<path d="M86.30,352.01 C86.91,350.61 88.83,349.08 89.90,348.64 C90.97,348.20 92.23,348.20 92.70,349.39 C93.17,350.58 93.03,353.86 92.70,355.80 C92.37,357.74 91.43,360.07 90.70,361.00 C89.97,361.93 89.05,362.07 88.30,361.40 C87.55,360.73 86.55,358.57 86.22,357.00 C85.89,355.43 85.69,353.40 86.30,352.01Z" fill="#3b86d6"/>
<path d="M86.93,352.85 C87.41,351.83 88.89,350.75 89.72,350.43 C90.55,350.12 91.53,350.11 91.89,350.97 C92.25,351.84 92.15,354.17 91.89,355.62 C91.63,357.07 90.91,358.93 90.34,359.65 C89.77,360.37 89.06,360.48 88.48,359.96 C87.90,359.44 87.13,357.73 86.87,356.55 C86.61,355.37 86.45,353.87 86.93,352.85Z" fill="#52b9d6"/>
<path d="M87.42,353.46 C87.79,352.71 88.94,351.95 89.58,351.73 C90.22,351.50 90.98,351.49 91.26,352.11 C91.54,352.74 91.46,354.40 91.26,355.48 C91.06,356.56 90.50,358.04 90.06,358.60 C89.62,359.16 89.07,359.24 88.62,358.84 C88.17,358.44 87.57,357.10 87.37,356.20 C87.17,355.30 87.05,354.21 87.42,353.46Z" fill="#6cc35a"/>
<path d="M87.98,354.09 C88.23,353.64 88.99,353.20 89.42,353.07 C89.85,352.93 90.35,352.92 90.54,353.29 C90.73,353.67 90.67,354.64 90.54,355.32 C90.41,356.00 90.03,357.03 89.74,357.40 C89.45,357.77 89.08,357.83 88.78,357.56 C88.48,357.29 88.08,356.38 87.95,355.80 C87.81,355.22 87.73,354.55 87.98,354.09Z" fill="#d6d83a"/>
<path d="M88.40,354.51 C88.55,354.25 89.03,354.02 89.30,353.95 C89.57,353.88 89.88,353.87 90.00,354.07 C90.12,354.28 90.08,354.80 90.00,355.20 C89.92,355.60 89.68,356.27 89.50,356.50 C89.32,356.73 89.09,356.77 88.90,356.60 C88.71,356.43 88.46,355.85 88.38,355.50 C88.30,355.15 88.25,354.76 88.40,354.51Z" fill="#f0902a"/>
<path d="M88.71,354.77 C88.80,354.65 89.06,354.55 89.21,354.52 C89.36,354.48 89.53,354.48 89.59,354.57 C89.66,354.67 89.64,354.90 89.59,355.11 C89.55,355.32 89.42,355.70 89.32,355.82 C89.22,355.95 89.09,355.97 88.99,355.88 C88.89,355.79 88.75,355.46 88.70,355.27 C88.66,355.09 88.63,354.90 88.71,354.77Z" fill="#e52a1e"/>
</g>
<g filter="url(#bl)">
<path d="M157.40,350.00 C158.25,348.42 160.90,346.33 162.40,345.50 C163.90,344.67 165.77,343.75 166.40,345.00 C167.03,346.25 166.45,350.17 166.20,353.00 C165.95,355.83 165.53,360.00 164.90,362.00 C164.27,364.00 163.15,364.83 162.40,365.00 C161.65,365.17 161.25,364.67 160.40,363.00 C159.55,361.33 157.80,357.17 157.30,355.00 C156.80,352.83 156.55,351.58 157.40,350.00Z" fill="#2d59bd"/>
<path d="M158.10,350.76 C158.78,349.55 160.90,348.01 162.10,347.39 C163.30,346.77 164.79,346.08 165.30,347.01 C165.81,347.95 165.34,350.80 165.14,353.00 C164.94,355.20 164.61,358.60 164.10,360.20 C163.59,361.80 162.70,362.47 162.10,362.60 C161.50,362.73 161.18,362.33 160.50,361.00 C159.82,359.67 158.42,356.31 158.02,354.60 C157.62,352.89 157.42,351.96 158.10,350.76Z" fill="#3b86d6"/>
<path d="M158.73,351.39 C159.26,350.51 160.90,349.42 161.83,348.97 C162.76,348.52 163.92,348.03 164.31,348.70 C164.70,349.37 164.34,351.35 164.19,353.00 C164.03,354.65 163.77,357.34 163.38,358.58 C162.99,359.82 162.30,360.34 161.83,360.44 C161.37,360.54 161.12,360.23 160.59,359.20 C160.06,358.17 158.98,355.54 158.67,354.24 C158.36,352.94 158.20,352.27 158.73,351.39Z" fill="#52b9d6"/>
<path d="M159.22,351.84 C159.63,351.20 160.90,350.43 161.62,350.11 C162.34,349.79 163.24,349.44 163.54,349.92 C163.84,350.40 163.56,351.77 163.44,353.00 C163.32,354.23 163.12,356.36 162.82,357.32 C162.52,358.28 161.98,358.68 161.62,358.76 C161.26,358.84 161.07,358.60 160.66,357.80 C160.25,357.00 159.41,354.95 159.17,353.96 C158.93,352.97 158.81,352.49 159.22,351.84Z" fill="#6cc35a"/>
<path d="M159.78,352.32 C160.05,351.93 160.90,351.48 161.38,351.29 C161.86,351.11 162.46,350.90 162.66,351.18 C162.86,351.47 162.68,352.22 162.60,353.00 C162.52,353.78 162.38,355.24 162.18,355.88 C161.98,356.52 161.62,356.79 161.38,356.84 C161.14,356.89 161.01,356.73 160.74,356.20 C160.47,355.67 159.91,354.29 159.75,353.64 C159.59,352.99 159.51,352.71 159.78,352.32Z" fill="#d6d83a"/>
<path d="M160.20,352.63 C160.37,352.41 160.90,352.18 161.20,352.07 C161.50,351.97 161.87,351.86 162.00,352.01 C162.13,352.17 162.01,352.54 161.96,353.00 C161.91,353.46 161.83,354.40 161.70,354.80 C161.57,355.20 161.35,355.37 161.20,355.40 C161.05,355.43 160.97,355.33 160.80,355.00 C160.63,354.67 160.28,353.80 160.18,353.40 C160.08,353.00 160.03,352.85 160.20,352.63Z" fill="#f0902a"/>
<path d="M160.52,352.83 C160.61,352.72 160.90,352.62 161.06,352.57 C161.23,352.53 161.44,352.48 161.50,352.55 C161.57,352.62 161.51,352.76 161.48,353.00 C161.46,353.24 161.41,353.77 161.34,353.99 C161.27,354.21 161.15,354.30 161.06,354.32 C160.98,354.34 160.94,354.28 160.84,354.10 C160.75,353.92 160.56,353.43 160.50,353.22 C160.45,353.01 160.42,352.94 160.52,352.83Z" fill="#e52a1e"/>
</g>
<g filter="url(#bl)">
<path d="M164.40,369.20 C164.77,368.93 166.23,368.93 166.60,369.20 C166.97,369.47 166.97,370.53 166.60,370.80 C166.23,371.07 164.77,371.07 164.40,370.80 C164.03,370.53 164.03,369.47 164.40,369.20Z" fill="#2d59bd"/>
<path d="M164.62,369.40 C164.91,369.20 166.09,369.20 166.38,369.40 C166.67,369.61 166.67,370.43 166.38,370.64 C166.09,370.85 164.91,370.85 164.62,370.64 C164.33,370.43 164.33,369.61 164.62,369.40Z" fill="#3b86d6"/>
</g>
<rect x="53.70" y="262.20" width="68.90" height="62.30" fill="none" stroke="#111" stroke-width="1.35"/>
<rect x="82.10" y="275.60" width="15.20" height="11.30" fill="none" stroke="#111" stroke-width="1.15"/>
<text x="89.15" y="273.00" font-size="10" text-anchor="middle" font-weight="normal" fill="#111" style="">5.97</text>
<line x1="51.90" y1="270.80" x2="53.70" y2="270.80" stroke="#222" stroke-width="1.0" />
<line x1="51.90" y1="289.40" x2="53.70" y2="289.40" stroke="#222" stroke-width="1.0" />
<line x1="51.90" y1="308.00" x2="53.70" y2="308.00" stroke="#222" stroke-width="1.0" />
<line x1="51.90" y1="319.20" x2="53.70" y2="319.20" stroke="#222" stroke-width="1.0" />
<line x1="58.40" y1="324.50" x2="58.40" y2="326.30" stroke="#222" stroke-width="1.0" />
<line x1="70.00" y1="324.50" x2="70.00" y2="326.30" stroke="#222" stroke-width="1.0" />
<line x1="89.00" y1="324.50" x2="89.00" y2="326.30" stroke="#222" stroke-width="1.0" />
<line x1="107.40" y1="324.50" x2="107.40" y2="326.30" stroke="#222" stroke-width="1.0" />
<line x1="55.70" y1="324.90" x2="120.60" y2="324.90" stroke="#333" stroke-width="1.2" stroke-dasharray="4 3 2 5 6 2 3 4"/>
<line x1="53.30" y1="265.20" x2="53.30" y2="322.50" stroke="#333" stroke-width="1.1" stroke-dasharray="3 6 2 8 5 4"/>
<rect x="125.90" y="262.20" width="69.20" height="62.30" fill="none" stroke="#111" stroke-width="1.35"/>
<rect x="153.90" y="275.60" width="15.20" height="11.30" fill="none" stroke="#111" stroke-width="1.15"/>
<text x="161.50" y="273.00" font-size="10" text-anchor="middle" font-weight="normal" fill="#111" style="">18.6</text>
<line x1="124.10" y1="270.80" x2="125.90" y2="270.80" stroke="#222" stroke-width="1.0" />
<line x1="124.10" y1="289.40" x2="125.90" y2="289.40" stroke="#222" stroke-width="1.0" />
<line x1="124.10" y1="308.00" x2="125.90" y2="308.00" stroke="#222" stroke-width="1.0" />
<line x1="124.10" y1="319.20" x2="125.90" y2="319.20" stroke="#222" stroke-width="1.0" />
<line x1="130.60" y1="324.50" x2="130.60" y2="326.30" stroke="#222" stroke-width="1.0" />
<line x1="142.20" y1="324.50" x2="142.20" y2="326.30" stroke="#222" stroke-width="1.0" />
<line x1="161.20" y1="324.50" x2="161.20" y2="326.30" stroke="#222" stroke-width="1.0" />
<line x1="179.60" y1="324.50" x2="179.60" y2="326.30" stroke="#222" stroke-width="1.0" />
<line x1="127.90" y1="324.90" x2="193.10" y2="324.90" stroke="#333" stroke-width="1.2" stroke-dasharray="4 3 2 5 6 2 3 4"/>
<line x1="125.50" y1="265.20" x2="125.50" y2="322.50" stroke="#333" stroke-width="1.1" stroke-dasharray="3 6 2 8 5 4"/>
<rect x="53.70" y="327.10" width="68.90" height="62.00" fill="none" stroke="#111" stroke-width="1.35"/>
<rect x="82.10" y="340.60" width="15.20" height="11.30" fill="none" stroke="#111" stroke-width="1.15"/>
<text x="89.15" y="337.90" font-size="10" text-anchor="middle" font-weight="normal" fill="#111" style="">21.6</text>
<line x1="51.90" y1="335.70" x2="53.70" y2="335.70" stroke="#222" stroke-width="1.0" />
<line x1="51.90" y1="354.30" x2="53.70" y2="354.30" stroke="#222" stroke-width="1.0" />
<line x1="51.90" y1="372.90" x2="53.70" y2="372.90" stroke="#222" stroke-width="1.0" />
<line x1="51.90" y1="384.10" x2="53.70" y2="384.10" stroke="#222" stroke-width="1.0" />
<line x1="58.40" y1="389.10" x2="58.40" y2="390.90" stroke="#222" stroke-width="1.0" />
<line x1="70.00" y1="389.10" x2="70.00" y2="390.90" stroke="#222" stroke-width="1.0" />
<line x1="89.00" y1="389.10" x2="89.00" y2="390.90" stroke="#222" stroke-width="1.0" />
<line x1="107.40" y1="389.10" x2="107.40" y2="390.90" stroke="#222" stroke-width="1.0" />
<line x1="55.70" y1="389.50" x2="120.60" y2="389.50" stroke="#333" stroke-width="1.2" stroke-dasharray="4 3 2 5 6 2 3 4"/>
<line x1="53.30" y1="330.10" x2="53.30" y2="387.10" stroke="#333" stroke-width="1.1" stroke-dasharray="3 6 2 8 5 4"/>
<rect x="125.90" y="327.10" width="69.20" height="62.00" fill="none" stroke="#111" stroke-width="1.35"/>
<rect x="153.90" y="340.60" width="15.20" height="11.30" fill="none" stroke="#111" stroke-width="1.15"/>
<text x="161.50" y="337.90" font-size="10" text-anchor="middle" font-weight="normal" fill="#111" style="">31.9</text>
<line x1="124.10" y1="335.70" x2="125.90" y2="335.70" stroke="#222" stroke-width="1.0" />
<line x1="124.10" y1="354.30" x2="125.90" y2="354.30" stroke="#222" stroke-width="1.0" />
<line x1="124.10" y1="372.90" x2="125.90" y2="372.90" stroke="#222" stroke-width="1.0" />
<line x1="124.10" y1="384.10" x2="125.90" y2="384.10" stroke="#222" stroke-width="1.0" />
<line x1="130.60" y1="389.10" x2="130.60" y2="390.90" stroke="#222" stroke-width="1.0" />
<line x1="142.20" y1="389.10" x2="142.20" y2="390.90" stroke="#222" stroke-width="1.0" />
<line x1="161.20" y1="389.10" x2="161.20" y2="390.90" stroke="#222" stroke-width="1.0" />
<line x1="179.60" y1="389.10" x2="179.60" y2="390.90" stroke="#222" stroke-width="1.0" />
<line x1="127.90" y1="389.50" x2="193.10" y2="389.50" stroke="#333" stroke-width="1.2" stroke-dasharray="4 3 2 5 6 2 3 4"/>
<line x1="125.50" y1="330.10" x2="125.50" y2="387.10" stroke="#333" stroke-width="1.1" stroke-dasharray="3 6 2 8 5 4"/>
<line x1="53.70" y1="325.80" x2="195.10" y2="325.80" stroke="#555" stroke-width="0.9" stroke-dasharray="1.3 2.4"/>
<line x1="124.25" y1="262.20" x2="124.25" y2="389.10" stroke="#555" stroke-width="0.9" stroke-dasharray="1.3 2.4"/>
<text x="49.60" y="273.10" font-size="7.3" text-anchor="end" fill="#1a1a1a">10<tspan font-size="4.5" dy="-2.8">4</tspan></text>
<text x="49.60" y="291.70" font-size="7.3" text-anchor="end" fill="#1a1a1a">10<tspan font-size="4.5" dy="-2.8">3</tspan></text>
<text x="49.60" y="310.30" font-size="7.3" text-anchor="end" fill="#1a1a1a">10<tspan font-size="4.5" dy="-2.8">2</tspan></text>
<text x="49.60" y="321.50" font-size="7.3" text-anchor="end" font-weight="normal" fill="#1a1a1a" style="">0</text>
<text x="49.60" y="338.00" font-size="7.3" text-anchor="end" fill="#1a1a1a">10<tspan font-size="4.5" dy="-2.8">4</tspan></text>
<text x="49.60" y="356.60" font-size="7.3" text-anchor="end" fill="#1a1a1a">10<tspan font-size="4.5" dy="-2.8">3</tspan></text>
<text x="49.60" y="375.20" font-size="7.3" text-anchor="end" fill="#1a1a1a">10<tspan font-size="4.5" dy="-2.8">2</tspan></text>
<text x="49.60" y="386.40" font-size="7.3" text-anchor="end" font-weight="normal" fill="#1a1a1a" style="">0</text>
<text x="58.40" y="398.50" font-size="7.3" text-anchor="middle" font-weight="normal" fill="#1a1a1a" style="">0</text>
<text x="70.00" y="398.50" font-size="7.3" text-anchor="middle" fill="#1a1a1a">10<tspan font-size="4.5" dy="-2.8">2</tspan></text>
<text x="89.00" y="398.50" font-size="7.3" text-anchor="middle" fill="#1a1a1a">10<tspan font-size="4.5" dy="-2.8">3</tspan></text>
<text x="107.40" y="398.50" font-size="7.3" text-anchor="middle" fill="#1a1a1a">10<tspan font-size="4.5" dy="-2.8">4</tspan></text>
<text x="130.60" y="398.50" font-size="7.3" text-anchor="middle" font-weight="normal" fill="#1a1a1a" style="">0</text>
<text x="142.20" y="398.50" font-size="7.3" text-anchor="middle" fill="#1a1a1a">10<tspan font-size="4.5" dy="-2.8">2</tspan></text>
<text x="161.20" y="398.50" font-size="7.3" text-anchor="middle" fill="#1a1a1a">10<tspan font-size="4.5" dy="-2.8">3</tspan></text>
<text x="179.60" y="398.50" font-size="7.3" text-anchor="middle" fill="#1a1a1a">10<tspan font-size="4.5" dy="-2.8">4</tspan></text>
<text x="0" y="0" font-size="10" text-anchor="middle" fill="#111" transform="translate(23.20 293.00) rotate(-90)">IgG</text>
<text x="0" y="0" font-size="10" text-anchor="middle" fill="#111" transform="translate(34.50 279.50) rotate(-90)">IFN-γ</text>
<text x="0" y="0" font-size="10" text-anchor="middle" fill="#111" transform="translate(23.00 361.50) rotate(-90)">Anti-CTLA-4</text>
<line x1="32.20" y1="391.00" x2="32.20" y2="302.00" stroke="#222" stroke-width="1.0" />
<path d="M30.20,303.50 L32.20,299.00 L34.20,303.50 Z" stroke="none" stroke-width="1" fill="#222" />
<line x1="53.00" y1="406.60" x2="164.50" y2="406.60" stroke="#222" stroke-width="1.0" />
<path d="M163.00,404.60 L167.50,406.60 L163.00,408.60 Z" stroke="none" stroke-width="1" fill="#222" />
<text x="171.00" y="410.80" font-size="10" text-anchor="start" font-weight="normal" fill="#111" style="">CD8</text>
<text x="0.00" y="425.80" font-size="13.2" text-anchor="start" font-weight="bold" fill="#111" style="">C</text>
<text x="178.30" y="433.50" font-size="10.45" text-anchor="middle" font-weight="normal" fill="#111" style="">MC38 tumor</text>
<line x1="52.00" y1="438.40" x2="308.00" y2="438.40" stroke="#111" stroke-width="1.1" stroke-dasharray="1.5 1.5"/>
<text x="88.50" y="454.00" font-size="10" text-anchor="middle" font-weight="normal" fill="#111" style="">WT</text>
<text x="160.5" y="454" font-size="10.3" text-anchor="middle" fill="#111"><tspan font-style="italic">Aebp1</tspan> cKO</text>
<g filter="url(#bl)">
<path d="M84.30,494.20 C85.02,491.62 87.13,487.78 88.30,486.70 C89.47,485.62 90.80,486.28 91.30,487.70 C91.80,489.12 90.72,492.20 91.30,495.20 C91.88,498.20 94.47,503.57 94.80,505.70 C95.13,507.83 94.47,507.58 93.30,508.00 C92.13,508.42 89.35,509.17 87.80,508.20 C86.25,507.23 84.58,504.53 84.00,502.20 C83.42,499.87 83.58,496.78 84.30,494.20Z" fill="#2d59bd"/>
<path d="M85.00,496.47 C85.57,494.53 87.27,491.67 88.20,490.85 C89.13,490.04 90.20,490.54 90.60,491.60 C91.00,492.66 90.13,494.95 90.60,497.21 C91.07,499.48 93.13,503.56 93.40,505.20 C93.67,506.84 93.13,506.71 92.20,507.04 C91.27,507.37 89.04,507.96 87.80,507.20 C86.56,506.44 85.23,504.24 84.76,502.45 C84.29,500.66 84.43,498.40 85.00,496.47Z" fill="#3b86d6"/>
<path d="M85.63,498.37 C86.07,496.98 87.39,494.92 88.11,494.34 C88.83,493.75 89.66,494.11 89.97,494.87 C90.28,495.63 89.61,497.26 89.97,498.90 C90.33,500.55 91.93,503.54 92.14,504.75 C92.35,505.96 91.93,505.92 91.21,506.18 C90.49,506.43 88.76,506.89 87.80,506.30 C86.84,505.71 85.81,503.99 85.44,502.66 C85.08,501.34 85.19,499.75 85.63,498.37Z" fill="#52b9d6"/>
<path d="M86.12,499.73 C86.46,498.74 87.48,497.26 88.04,496.85 C88.60,496.43 89.24,496.68 89.48,497.23 C89.72,497.78 89.20,498.92 89.48,500.12 C89.76,501.31 91.00,503.50 91.16,504.40 C91.32,505.30 91.00,505.30 90.44,505.50 C89.88,505.70 88.54,506.05 87.80,505.60 C87.06,505.15 86.26,503.79 85.98,502.81 C85.70,501.84 85.78,500.73 86.12,499.73Z" fill="#6cc35a"/>
<path d="M86.68,501.15 C86.91,500.57 87.59,499.70 87.96,499.45 C88.33,499.20 88.76,499.35 88.92,499.68 C89.08,500.00 88.73,500.66 88.92,501.38 C89.11,502.10 89.93,503.44 90.04,504.00 C90.15,504.56 89.93,504.60 89.56,504.74 C89.19,504.87 88.30,505.09 87.80,504.80 C87.30,504.51 86.77,503.58 86.58,502.97 C86.40,502.36 86.45,501.74 86.68,501.15Z" fill="#d6d83a"/>
<path d="M87.10,502.09 C87.24,501.77 87.67,501.30 87.90,501.16 C88.13,501.03 88.40,501.11 88.50,501.29 C88.60,501.46 88.38,501.81 88.50,502.21 C88.62,502.61 89.13,503.38 89.20,503.70 C89.27,504.02 89.13,504.08 88.90,504.16 C88.67,504.24 88.11,504.38 87.80,504.20 C87.49,504.02 87.16,503.43 87.04,503.08 C86.92,502.72 86.96,502.41 87.10,502.09Z" fill="#f0902a"/>
<path d="M87.41,502.69 C87.49,502.54 87.73,502.33 87.86,502.26 C87.98,502.20 88.13,502.24 88.19,502.32 C88.24,502.40 88.12,502.55 88.19,502.75 C88.25,502.94 88.53,503.31 88.57,503.47 C88.61,503.64 88.53,503.68 88.41,503.73 C88.28,503.77 87.97,503.85 87.80,503.75 C87.63,503.65 87.45,503.32 87.38,503.14 C87.32,502.97 87.34,502.84 87.41,502.69Z" fill="#e52a1e"/>
</g>
<g filter="url(#bl)">
<path d="M156.10,491.50 C156.80,489.50 159.02,488.70 160.60,488.00 C162.18,487.30 165.02,486.55 165.60,487.30 C166.18,488.05 164.52,490.47 164.10,492.50 C163.68,494.53 163.85,497.75 163.10,499.50 C162.35,501.25 160.72,502.92 159.60,503.00 C158.48,503.08 156.98,501.92 156.40,500.00 C155.82,498.08 155.40,493.50 156.10,491.50Z" fill="#2d59bd"/>
<path d="M156.80,492.26 C157.36,490.71 159.13,490.16 160.40,489.64 C161.67,489.11 163.93,488.55 164.40,489.11 C164.87,489.67 163.53,491.44 163.20,493.00 C162.87,494.57 163.00,497.12 162.40,498.50 C161.80,499.88 160.49,501.23 159.60,501.30 C158.71,501.37 157.51,500.41 157.04,498.90 C156.57,497.39 156.24,493.80 156.80,492.26Z" fill="#3b86d6"/>
<path d="M157.43,492.89 C157.86,491.74 159.24,491.38 160.22,491.01 C161.20,490.63 162.96,490.23 163.32,490.63 C163.68,491.04 162.65,492.26 162.39,493.43 C162.13,494.59 162.23,496.54 161.77,497.60 C161.30,498.66 160.29,499.72 159.60,499.77 C158.91,499.82 157.98,499.06 157.62,497.91 C157.25,496.76 157.00,494.04 157.43,492.89Z" fill="#52b9d6"/>
<path d="M157.92,493.34 C158.26,492.49 159.32,492.27 160.08,492.00 C160.84,491.73 162.20,491.44 162.48,491.73 C162.76,492.02 161.96,492.87 161.76,493.73 C161.56,494.59 161.64,496.09 161.28,496.90 C160.92,497.71 160.14,498.54 159.60,498.58 C159.06,498.62 158.34,498.01 158.06,497.14 C157.78,496.27 157.58,494.20 157.92,493.34Z" fill="#6cc35a"/>
<path d="M158.48,493.82 C158.70,493.28 159.41,493.18 159.92,493.02 C160.43,492.86 161.33,492.69 161.52,492.86 C161.71,493.03 161.17,493.51 161.04,494.05 C160.91,494.58 160.96,495.57 160.72,496.10 C160.48,496.63 159.96,497.19 159.60,497.22 C159.24,497.25 158.76,496.83 158.58,496.26 C158.39,495.69 158.26,494.36 158.48,493.82Z" fill="#d6d83a"/>
<path d="M158.90,494.13 C159.04,493.81 159.48,493.78 159.80,493.70 C160.12,493.61 160.68,493.52 160.80,493.61 C160.92,493.70 160.58,493.94 160.50,494.25 C160.42,494.57 160.45,495.18 160.30,495.50 C160.15,495.82 159.82,496.18 159.60,496.20 C159.38,496.22 159.08,495.95 158.96,495.60 C158.84,495.25 158.76,494.45 158.90,494.13Z" fill="#f0902a"/>
<path d="M159.22,494.33 C159.29,494.17 159.54,494.17 159.71,494.13 C159.88,494.09 160.20,494.05 160.26,494.09 C160.32,494.13 160.14,494.23 160.09,494.39 C160.05,494.55 160.07,494.88 159.98,495.05 C159.90,495.22 159.72,495.43 159.60,495.44 C159.48,495.44 159.31,495.29 159.25,495.11 C159.18,494.92 159.14,494.49 159.22,494.33Z" fill="#e52a1e"/>
</g>
<g filter="url(#bl)">
<path d="M84.00,558.00 C84.72,555.50 86.67,552.67 87.80,552.00 C88.93,551.33 90.30,552.00 90.80,554.00 C91.30,556.00 90.47,561.67 90.80,564.00 C91.13,566.33 92.63,566.53 92.80,568.00 C92.97,569.47 92.63,571.97 91.80,572.80 C90.97,573.63 89.18,573.97 87.80,573.00 C86.42,572.03 84.13,569.50 83.50,567.00 C82.87,564.50 83.28,560.50 84.00,558.00Z" fill="#2d59bd"/>
<path d="M84.56,559.01 C85.13,557.09 86.69,555.02 87.60,554.52 C88.51,554.02 89.60,554.50 90.00,556.01 C90.40,557.53 89.73,561.80 90.00,563.60 C90.27,565.40 91.47,565.63 91.60,566.80 C91.73,567.97 91.47,569.97 90.80,570.64 C90.13,571.31 88.71,571.57 87.60,570.80 C86.49,570.03 84.67,567.97 84.16,566.00 C83.65,564.03 83.99,560.92 84.56,559.01Z" fill="#3b86d6"/>
<path d="M85.06,559.85 C85.51,558.44 86.72,556.99 87.42,556.63 C88.12,556.27 88.97,556.60 89.28,557.70 C89.59,558.80 89.07,561.90 89.28,563.24 C89.49,564.58 90.42,564.81 90.52,565.72 C90.62,566.63 90.42,568.18 89.90,568.70 C89.38,569.21 88.28,569.42 87.42,568.82 C86.56,568.22 85.15,566.59 84.75,565.10 C84.36,563.61 84.62,561.26 85.06,559.85Z" fill="#52b9d6"/>
<path d="M85.46,560.46 C85.80,559.42 86.74,558.41 87.28,558.15 C87.82,557.89 88.48,558.12 88.72,558.92 C88.96,559.72 88.56,561.97 88.72,562.96 C88.88,563.95 89.60,564.18 89.68,564.88 C89.76,565.58 89.60,566.78 89.20,567.18 C88.80,567.58 87.94,567.74 87.28,567.28 C86.62,566.82 85.52,565.54 85.22,564.40 C84.91,563.26 85.11,561.50 85.46,560.46Z" fill="#6cc35a"/>
<path d="M85.90,561.09 C86.13,560.45 86.76,559.88 87.12,559.73 C87.48,559.57 87.92,559.70 88.08,560.18 C88.24,560.67 87.97,562.02 88.08,562.64 C88.19,563.26 88.67,563.45 88.72,563.92 C88.77,564.39 88.67,565.19 88.40,565.46 C88.13,565.72 87.56,565.83 87.12,565.52 C86.68,565.21 85.95,564.34 85.74,563.60 C85.54,562.86 85.67,561.74 85.90,561.09Z" fill="#d6d83a"/>
<path d="M86.24,561.51 C86.38,561.13 86.77,560.85 87.00,560.77 C87.23,560.68 87.50,560.74 87.60,561.01 C87.70,561.29 87.53,562.04 87.60,562.40 C87.67,562.76 87.97,562.91 88.00,563.20 C88.03,563.49 87.97,563.99 87.80,564.16 C87.63,564.33 87.28,564.39 87.00,564.20 C86.72,564.01 86.27,563.45 86.14,563.00 C86.01,562.55 86.10,561.88 86.24,561.51Z" fill="#f0902a"/>
<path d="M86.49,561.77 C86.57,561.59 86.79,561.47 86.91,561.43 C87.03,561.39 87.19,561.41 87.24,561.55 C87.29,561.68 87.20,562.03 87.24,562.22 C87.28,562.41 87.44,562.50 87.46,562.66 C87.48,562.82 87.44,563.10 87.35,563.19 C87.26,563.28 87.06,563.32 86.91,563.21 C86.76,563.10 86.51,562.79 86.44,562.55 C86.37,562.31 86.41,561.96 86.49,561.77Z" fill="#e52a1e"/>
</g>
<g filter="url(#bl)">
<path d="M157.20,556.70 C158.00,554.28 160.87,551.78 162.20,550.70 C163.53,549.62 164.87,548.95 165.20,550.20 C165.53,551.45 164.53,555.62 164.20,558.20 C163.87,560.78 164.03,563.87 163.20,565.70 C162.37,567.53 160.17,569.28 159.20,569.20 C158.23,569.12 157.73,567.28 157.40,565.20 C157.07,563.12 156.40,559.12 157.20,556.70Z" fill="#2d59bd"/>
<path d="M157.80,557.08 C158.44,555.21 160.73,553.40 161.80,552.59 C162.87,551.78 163.93,551.28 164.20,552.21 C164.47,553.15 163.67,556.20 163.40,558.20 C163.13,560.20 163.27,562.73 162.60,564.20 C161.93,565.67 160.17,567.07 159.40,567.00 C158.63,566.93 158.23,565.45 157.96,563.80 C157.69,562.15 157.16,558.95 157.80,557.08Z" fill="#3b86d6"/>
<path d="M158.34,557.39 C158.84,556.00 160.61,554.75 161.44,554.17 C162.27,553.59 163.09,553.23 163.30,553.90 C163.51,554.57 162.89,556.71 162.68,558.20 C162.47,559.69 162.58,561.71 162.06,562.85 C161.54,563.99 160.18,565.07 159.58,565.02 C158.98,564.97 158.67,563.81 158.46,562.54 C158.26,561.27 157.84,558.79 158.34,557.39Z" fill="#52b9d6"/>
<path d="M158.76,557.62 C159.14,556.58 160.52,555.73 161.16,555.31 C161.80,554.89 162.44,554.64 162.60,555.12 C162.76,555.60 162.28,557.09 162.12,558.20 C161.96,559.31 162.04,560.92 161.64,561.80 C161.24,562.68 160.18,563.52 159.72,563.48 C159.26,563.44 159.02,562.54 158.86,561.56 C158.70,560.58 158.38,558.66 158.76,557.62Z" fill="#6cc35a"/>
<path d="M159.24,557.86 C159.50,557.20 160.41,556.74 160.84,556.49 C161.27,556.25 161.69,556.10 161.80,556.38 C161.91,556.67 161.59,557.50 161.48,558.20 C161.37,558.90 161.43,560.01 161.16,560.60 C160.89,561.19 160.19,561.75 159.88,561.72 C159.57,561.69 159.41,561.08 159.30,560.44 C159.20,559.80 158.98,558.52 159.24,557.86Z" fill="#d6d83a"/>
<path d="M159.60,558.01 C159.76,557.63 160.33,557.41 160.60,557.27 C160.87,557.14 161.13,557.06 161.20,557.21 C161.27,557.37 161.07,557.79 161.00,558.20 C160.93,558.61 160.97,559.33 160.80,559.70 C160.63,560.07 160.19,560.42 160.00,560.40 C159.81,560.38 159.71,560.00 159.64,559.60 C159.57,559.20 159.44,558.40 159.60,558.01Z" fill="#f0902a"/>
<path d="M159.87,558.11 C159.96,557.92 160.27,557.84 160.42,557.77 C160.57,557.71 160.71,557.68 160.75,557.75 C160.79,557.82 160.68,557.99 160.64,558.20 C160.60,558.41 160.62,558.82 160.53,559.03 C160.44,559.23 160.20,559.42 160.09,559.41 C159.98,559.40 159.93,559.19 159.89,558.97 C159.86,558.75 159.78,558.31 159.87,558.11Z" fill="#e52a1e"/>
</g>
<rect x="53.10" y="458.50" width="69.30" height="62.30" fill="none" stroke="#111" stroke-width="1.35"/>
<rect x="79.90" y="475.30" width="19.80" height="16.50" fill="none" stroke="#111" stroke-width="1.15"/>
<text x="88.75" y="473.30" font-size="10" text-anchor="middle" font-weight="normal" fill="#111" style="">5.94</text>
<line x1="51.30" y1="466.90" x2="53.10" y2="466.90" stroke="#222" stroke-width="1.0" />
<line x1="51.30" y1="484.60" x2="53.10" y2="484.60" stroke="#222" stroke-width="1.0" />
<line x1="51.30" y1="503.30" x2="53.10" y2="503.30" stroke="#222" stroke-width="1.0" />
<line x1="51.30" y1="516.50" x2="53.10" y2="516.50" stroke="#222" stroke-width="1.0" />
<line x1="58.40" y1="520.80" x2="58.40" y2="522.60" stroke="#222" stroke-width="1.0" />
<line x1="70.10" y1="520.80" x2="70.10" y2="522.60" stroke="#222" stroke-width="1.0" />
<line x1="88.90" y1="520.80" x2="88.90" y2="522.60" stroke="#222" stroke-width="1.0" />
<line x1="107.10" y1="520.80" x2="107.10" y2="522.60" stroke="#222" stroke-width="1.0" />
<line x1="55.10" y1="521.20" x2="120.40" y2="521.20" stroke="#333" stroke-width="1.2" stroke-dasharray="4 3 2 5 6 2 3 4"/>
<line x1="52.70" y1="461.50" x2="52.70" y2="518.80" stroke="#333" stroke-width="1.1" stroke-dasharray="3 6 2 8 5 4"/>
<rect x="125.90" y="458.50" width="68.50" height="62.30" fill="none" stroke="#111" stroke-width="1.35"/>
<rect x="152.30" y="475.30" width="19.80" height="16.50" fill="none" stroke="#111" stroke-width="1.15"/>
<text x="161.15" y="473.30" font-size="10" text-anchor="middle" font-weight="normal" fill="#111" style="">15.3</text>
<line x1="124.10" y1="466.90" x2="125.90" y2="466.90" stroke="#222" stroke-width="1.0" />
<line x1="124.10" y1="484.60" x2="125.90" y2="484.60" stroke="#222" stroke-width="1.0" />
<line x1="124.10" y1="503.30" x2="125.90" y2="503.30" stroke="#222" stroke-width="1.0" />
<line x1="124.10" y1="516.50" x2="125.90" y2="516.50" stroke="#222" stroke-width="1.0" />
<line x1="131.20" y1="520.80" x2="131.20" y2="522.60" stroke="#222" stroke-width="1.0" />
<line x1="142.90" y1="520.80" x2="142.90" y2="522.60" stroke="#222" stroke-width="1.0" />
<line x1="161.70" y1="520.80" x2="161.70" y2="522.60" stroke="#222" stroke-width="1.0" />
<line x1="179.90" y1="520.80" x2="179.90" y2="522.60" stroke="#222" stroke-width="1.0" />
<line x1="127.90" y1="521.20" x2="192.40" y2="521.20" stroke="#333" stroke-width="1.2" stroke-dasharray="4 3 2 5 6 2 3 4"/>
<line x1="125.50" y1="461.50" x2="125.50" y2="518.80" stroke="#333" stroke-width="1.1" stroke-dasharray="3 6 2 8 5 4"/>
<rect x="53.10" y="524.10" width="69.30" height="61.80" fill="none" stroke="#111" stroke-width="1.35"/>
<rect x="79.90" y="540.30" width="19.80" height="16.90" fill="none" stroke="#111" stroke-width="1.15"/>
<text x="88.75" y="538.90" font-size="10" text-anchor="middle" font-weight="normal" fill="#111" style="">13.5</text>
<line x1="51.30" y1="532.50" x2="53.10" y2="532.50" stroke="#222" stroke-width="1.0" />
<line x1="51.30" y1="550.20" x2="53.10" y2="550.20" stroke="#222" stroke-width="1.0" />
<line x1="51.30" y1="568.90" x2="53.10" y2="568.90" stroke="#222" stroke-width="1.0" />
<line x1="51.30" y1="582.10" x2="53.10" y2="582.10" stroke="#222" stroke-width="1.0" />
<line x1="58.40" y1="585.90" x2="58.40" y2="587.70" stroke="#222" stroke-width="1.0" />
<line x1="70.10" y1="585.90" x2="70.10" y2="587.70" stroke="#222" stroke-width="1.0" />
<line x1="88.90" y1="585.90" x2="88.90" y2="587.70" stroke="#222" stroke-width="1.0" />
<line x1="107.10" y1="585.90" x2="107.10" y2="587.70" stroke="#222" stroke-width="1.0" />
<line x1="55.10" y1="586.30" x2="120.40" y2="586.30" stroke="#333" stroke-width="1.2" stroke-dasharray="4 3 2 5 6 2 3 4"/>
<line x1="52.70" y1="527.10" x2="52.70" y2="583.90" stroke="#333" stroke-width="1.1" stroke-dasharray="3 6 2 8 5 4"/>
<rect x="125.90" y="524.10" width="68.50" height="61.80" fill="none" stroke="#111" stroke-width="1.35"/>
<rect x="152.30" y="540.30" width="19.80" height="16.90" fill="none" stroke="#111" stroke-width="1.15"/>
<text x="161.15" y="538.90" font-size="10" text-anchor="middle" font-weight="normal" fill="#111" style="">30.8</text>
<line x1="124.10" y1="532.50" x2="125.90" y2="532.50" stroke="#222" stroke-width="1.0" />
<line x1="124.10" y1="550.20" x2="125.90" y2="550.20" stroke="#222" stroke-width="1.0" />
<line x1="124.10" y1="568.90" x2="125.90" y2="568.90" stroke="#222" stroke-width="1.0" />
<line x1="124.10" y1="582.10" x2="125.90" y2="582.10" stroke="#222" stroke-width="1.0" />
<line x1="131.20" y1="585.90" x2="131.20" y2="587.70" stroke="#222" stroke-width="1.0" />
<line x1="142.90" y1="585.90" x2="142.90" y2="587.70" stroke="#222" stroke-width="1.0" />
<line x1="161.70" y1="585.90" x2="161.70" y2="587.70" stroke="#222" stroke-width="1.0" />
<line x1="179.90" y1="585.90" x2="179.90" y2="587.70" stroke="#222" stroke-width="1.0" />
<line x1="127.90" y1="586.30" x2="192.40" y2="586.30" stroke="#333" stroke-width="1.2" stroke-dasharray="4 3 2 5 6 2 3 4"/>
<line x1="125.50" y1="527.10" x2="125.50" y2="583.90" stroke="#333" stroke-width="1.1" stroke-dasharray="3 6 2 8 5 4"/>
<line x1="53.10" y1="522.45" x2="194.40" y2="522.45" stroke="#555" stroke-width="0.9" stroke-dasharray="1.3 2.4"/>
<line x1="124.15" y1="458.50" x2="124.15" y2="585.90" stroke="#555" stroke-width="0.9" stroke-dasharray="1.3 2.4"/>
<text x="49.60" y="469.20" font-size="7.3" text-anchor="end" fill="#1a1a1a">10<tspan font-size="4.5" dy="-2.8">4</tspan></text>
<text x="49.60" y="486.90" font-size="7.3" text-anchor="end" fill="#1a1a1a">10<tspan font-size="4.5" dy="-2.8">3</tspan></text>
<text x="49.60" y="505.60" font-size="7.3" text-anchor="end" fill="#1a1a1a">10<tspan font-size="4.5" dy="-2.8">2</tspan></text>
<text x="49.60" y="518.80" font-size="7.3" text-anchor="end" font-weight="normal" fill="#1a1a1a" style="">0</text>
<text x="49.60" y="534.80" font-size="7.3" text-anchor="end" fill="#1a1a1a">10<tspan font-size="4.5" dy="-2.8">4</tspan></text>
<text x="49.60" y="552.50" font-size="7.3" text-anchor="end" fill="#1a1a1a">10<tspan font-size="4.5" dy="-2.8">3</tspan></text>
<text x="49.60" y="571.20" font-size="7.3" text-anchor="end" fill="#1a1a1a">10<tspan font-size="4.5" dy="-2.8">2</tspan></text>
<text x="49.60" y="584.40" font-size="7.3" text-anchor="end" font-weight="normal" fill="#1a1a1a" style="">0</text>
<text x="58.40" y="596.80" font-size="7.3" text-anchor="middle" font-weight="normal" fill="#1a1a1a" style="">0</text>
<text x="70.10" y="596.80" font-size="7.3" text-anchor="middle" fill="#1a1a1a">10<tspan font-size="4.5" dy="-2.8">2</tspan></text>
<text x="88.90" y="596.80" font-size="7.3" text-anchor="middle" fill="#1a1a1a">10<tspan font-size="4.5" dy="-2.8">3</tspan></text>
<text x="107.10" y="596.80" font-size="7.3" text-anchor="middle" fill="#1a1a1a">10<tspan font-size="4.5" dy="-2.8">4</tspan></text>
<text x="131.20" y="596.80" font-size="7.3" text-anchor="middle" font-weight="normal" fill="#1a1a1a" style="">0</text>
<text x="142.90" y="596.80" font-size="7.3" text-anchor="middle" fill="#1a1a1a">10<tspan font-size="4.5" dy="-2.8">2</tspan></text>
<text x="161.70" y="596.80" font-size="7.3" text-anchor="middle" fill="#1a1a1a">10<tspan font-size="4.5" dy="-2.8">3</tspan></text>
<text x="179.90" y="596.80" font-size="7.3" text-anchor="middle" fill="#1a1a1a">10<tspan font-size="4.5" dy="-2.8">4</tspan></text>
<text x="0" y="0" font-size="10" text-anchor="middle" fill="#111" transform="translate(23.30 490.00) rotate(-90)">IgG</text>
<text x="0" y="0" font-size="10" text-anchor="middle" fill="#111" transform="translate(37.60 477.70) rotate(-90)">TNF-α</text>
<text x="0" y="0" font-size="10" text-anchor="middle" fill="#111" transform="translate(23.00 555.00) rotate(-90)">Anti-CTLA-4</text>
<line x1="33.00" y1="587.00" x2="33.00" y2="499.00" stroke="#222" stroke-width="1.0" />
<path d="M31.00,500.50 L33.00,496.00 L35.00,500.50 Z" stroke="none" stroke-width="1" fill="#222" />
<line x1="52.00" y1="600.60" x2="165.00" y2="600.60" stroke="#222" stroke-width="1.0" />
<path d="M163.50,598.60 L168.00,600.60 L163.50,602.60 Z" stroke="none" stroke-width="1" fill="#222" />
<text x="170.00" y="604.50" font-size="10" text-anchor="start" font-weight="normal" fill="#111" style="">CD8</text>
<text x="352.00" y="225.80" font-size="13.2" text-anchor="start" font-weight="bold" fill="#111" style="">E</text>
<text x="532.30" y="236.00" font-size="10.45" text-anchor="middle" font-weight="normal" fill="#111" style="">EO771 tumor</text>
<line x1="404.30" y1="241.80" x2="663.00" y2="241.80" stroke="#111" stroke-width="1.1" stroke-dasharray="1.5 1.5"/>
<text x="440.00" y="256.00" font-size="10" text-anchor="middle" font-weight="normal" fill="#111" style="">WT</text>
<text x="511.1" y="256" font-size="10.3" text-anchor="middle" fill="#111"><tspan font-style="italic">Aebp1</tspan> cKO</text>
<g filter="url(#bl)">
<path d="M433.30,284.90 C433.83,284.27 435.32,285.27 436.10,285.90 C436.88,286.53 437.05,288.33 438.00,288.70 C438.95,289.07 441.07,287.62 441.80,288.10 C442.53,288.58 442.55,289.92 442.40,291.60 C442.25,293.28 439.88,296.15 440.90,298.20 C441.92,300.25 447.18,302.32 448.50,303.90 C449.82,305.48 449.43,306.75 448.80,307.70 C448.17,308.65 446.97,309.18 444.70,309.60 C442.43,310.02 437.58,310.62 435.20,310.20 C432.82,309.78 431.20,308.47 430.40,307.10 C429.60,305.73 430.17,303.63 430.40,302.00 C430.63,300.37 431.38,299.35 431.80,297.30 C432.22,295.25 432.65,291.77 432.90,289.70 C433.15,287.63 432.77,285.53 433.30,284.90Z" fill="#2d59bd"/>
<path d="M433.86,290.01 C434.29,289.54 435.47,290.29 436.10,290.76 C436.73,291.23 436.86,292.58 437.62,292.85 C438.38,293.13 440.07,292.04 440.66,292.41 C441.25,292.77 441.26,293.77 441.14,295.02 C441.02,296.28 439.13,298.43 439.94,299.96 C440.75,301.50 444.97,303.02 446.02,304.23 C447.07,305.43 446.77,306.45 446.26,307.20 C445.75,307.95 444.79,308.39 442.98,308.72 C441.17,309.05 437.29,309.53 435.38,309.20 C433.47,308.87 432.18,307.79 431.54,306.72 C430.90,305.65 431.35,304.04 431.54,302.81 C431.73,301.57 432.33,300.82 432.66,299.29 C432.99,297.76 433.34,295.15 433.54,293.60 C433.74,292.06 433.43,290.49 433.86,290.01Z" fill="#3b86d6"/>
<path d="M434.36,294.30 C434.69,293.96 435.61,294.49 436.10,294.83 C436.59,295.17 436.69,296.14 437.28,296.34 C437.87,296.53 439.18,295.75 439.63,296.01 C440.09,296.27 440.10,296.99 440.01,297.89 C439.91,298.80 438.45,300.34 439.08,301.44 C439.71,302.54 442.97,303.62 443.79,304.50 C444.60,305.39 444.37,306.18 443.97,306.75 C443.58,307.32 442.84,307.67 441.43,307.93 C440.03,308.19 437.02,308.56 435.54,308.30 C434.06,308.04 433.06,307.18 432.57,306.38 C432.07,305.57 432.42,304.38 432.57,303.48 C432.71,302.58 433.18,302.06 433.43,300.96 C433.69,299.86 433.96,297.98 434.12,296.87 C434.27,295.76 434.03,294.64 434.36,294.30Z" fill="#52b9d6"/>
<path d="M434.76,297.38 C435.01,297.14 435.72,297.52 436.10,297.77 C436.48,298.01 436.56,298.70 437.01,298.85 C437.47,298.99 438.48,298.43 438.84,298.61 C439.19,298.80 439.20,299.31 439.12,299.96 C439.05,300.61 437.92,301.71 438.40,302.50 C438.89,303.29 441.42,304.05 442.05,304.70 C442.68,305.35 442.50,305.96 442.20,306.40 C441.89,306.84 441.32,307.11 440.23,307.31 C439.14,307.51 436.81,307.80 435.67,307.60 C434.52,307.40 433.75,306.72 433.36,306.11 C432.98,305.51 433.25,304.63 433.36,303.97 C433.48,303.31 433.84,302.95 434.04,302.16 C434.24,301.37 434.44,300.03 434.56,299.23 C434.68,298.43 434.50,297.63 434.76,297.38Z" fill="#6cc35a"/>
<path d="M435.20,300.58 C435.37,300.44 435.85,300.67 436.10,300.81 C436.35,300.96 436.40,301.37 436.71,301.45 C437.01,301.53 437.69,301.20 437.92,301.31 C438.16,301.42 438.16,301.73 438.12,302.11 C438.07,302.49 437.31,303.14 437.64,303.61 C437.96,304.07 439.65,304.51 440.07,304.90 C440.49,305.30 440.37,305.72 440.16,306.00 C439.96,306.28 439.58,306.47 438.85,306.61 C438.13,306.74 436.57,306.93 435.81,306.80 C435.05,306.67 434.53,306.20 434.28,305.81 C434.02,305.42 434.20,304.87 434.28,304.47 C434.35,304.07 434.59,303.87 434.72,303.40 C434.86,302.94 435.00,302.15 435.08,301.68 C435.16,301.21 435.03,300.73 435.20,300.58Z" fill="#d6d83a"/>
<path d="M435.54,302.69 C435.65,302.62 435.94,302.74 436.10,302.82 C436.26,302.90 436.29,303.12 436.48,303.16 C436.67,303.21 437.09,303.03 437.24,303.09 C437.39,303.15 437.39,303.31 437.36,303.52 C437.33,303.73 436.86,304.08 437.06,304.34 C437.26,304.59 438.32,304.81 438.58,305.04 C438.84,305.27 438.77,305.53 438.64,305.70 C438.51,305.87 438.27,306.00 437.82,306.08 C437.37,306.16 436.40,306.28 435.92,306.20 C435.44,306.12 435.12,305.81 434.96,305.58 C434.80,305.35 434.91,305.03 434.96,304.81 C435.01,304.58 435.16,304.48 435.24,304.23 C435.32,303.97 435.41,303.54 435.46,303.29 C435.51,303.03 435.43,302.77 435.54,302.69Z" fill="#f0902a"/>
<path d="M435.79,304.05 C435.85,304.01 436.01,304.07 436.10,304.11 C436.19,304.14 436.20,304.24 436.31,304.26 C436.41,304.28 436.65,304.20 436.73,304.23 C436.81,304.26 436.81,304.33 436.79,304.43 C436.78,304.52 436.52,304.69 436.63,304.80 C436.74,304.92 437.32,305.01 437.46,305.13 C437.61,305.24 437.57,305.38 437.50,305.47 C437.43,305.57 437.30,305.64 437.05,305.68 C436.80,305.73 436.26,305.80 436.00,305.75 C435.74,305.70 435.56,305.53 435.47,305.41 C435.38,305.29 435.45,305.13 435.47,305.02 C435.50,304.91 435.58,304.87 435.63,304.75 C435.67,304.64 435.72,304.44 435.75,304.32 C435.78,304.20 435.73,304.08 435.79,304.05Z" fill="#e52a1e"/>
</g>
<g filter="url(#bl)">
<path d="M506.30,281.70 C507.25,281.70 509.23,284.57 510.10,285.90 C510.97,287.23 511.65,287.97 511.50,289.70 C511.35,291.43 508.48,294.08 509.20,296.30 C509.92,298.52 514.53,301.42 515.80,303.00 C517.07,304.58 517.27,304.92 516.80,305.80 C516.33,306.68 514.58,307.52 513.00,308.30 C511.42,309.08 508.88,310.45 507.30,310.50 C505.72,310.55 504.30,309.85 503.50,308.60 C502.70,307.35 502.57,305.52 502.50,303.00 C502.43,300.48 502.78,296.35 503.10,293.50 C503.42,290.65 503.87,287.87 504.40,285.90 C504.93,283.93 505.35,281.70 506.30,281.70Z" fill="#2d59bd"/>
<path d="M506.30,287.52 C507.06,287.52 508.65,289.66 509.34,290.66 C510.03,291.66 510.58,292.21 510.46,293.50 C510.34,294.80 508.05,296.78 508.62,298.44 C509.19,300.10 512.89,302.26 513.90,303.45 C514.91,304.65 515.07,304.91 514.70,305.60 C514.33,306.29 512.93,306.97 511.66,307.60 C510.39,308.23 508.37,309.32 507.10,309.36 C505.83,309.40 504.70,308.82 504.06,307.84 C503.42,306.86 503.31,305.37 503.26,303.45 C503.21,301.54 503.49,298.48 503.74,296.35 C503.99,294.21 504.35,292.13 504.78,290.66 C505.21,289.19 505.54,287.52 506.30,287.52Z" fill="#3b86d6"/>
<path d="M506.30,292.39 C506.89,292.39 508.12,293.93 508.66,294.65 C509.19,295.36 509.62,295.76 509.52,296.69 C509.43,297.62 507.65,299.04 508.10,300.23 C508.54,301.42 511.40,302.97 512.19,303.83 C512.98,304.70 513.10,304.90 512.81,305.42 C512.52,305.94 511.44,306.48 510.45,306.97 C509.47,307.46 507.90,308.30 506.92,308.33 C505.94,308.37 505.06,307.91 504.56,307.16 C504.07,306.41 503.99,305.24 503.94,303.83 C503.90,302.43 504.12,300.26 504.32,298.73 C504.51,297.20 504.79,295.70 505.12,294.65 C505.45,293.59 505.71,292.39 506.30,292.39Z" fill="#52b9d6"/>
<path d="M506.30,295.90 C506.76,295.90 507.71,297.01 508.12,297.52 C508.54,298.03 508.87,298.32 508.80,298.98 C508.72,299.65 507.35,300.67 507.69,301.53 C508.04,302.38 510.25,303.48 510.86,304.11 C511.47,304.73 511.56,304.88 511.34,305.28 C511.12,305.68 510.28,306.10 509.52,306.48 C508.76,306.86 507.54,307.51 506.78,307.54 C506.02,307.56 505.34,307.20 504.96,306.62 C504.57,306.05 504.51,305.14 504.48,304.11 C504.44,303.08 504.61,301.55 504.76,300.45 C504.92,299.35 505.13,298.28 505.39,297.52 C505.64,296.76 505.84,295.90 506.30,295.90Z" fill="#6cc35a"/>
<path d="M506.30,299.55 C506.60,299.55 507.24,300.20 507.52,300.50 C507.79,300.81 508.01,300.97 507.96,301.37 C507.92,301.76 507.00,302.36 507.23,302.87 C507.46,303.37 508.93,304.02 509.34,304.39 C509.75,304.77 509.81,304.87 509.66,305.12 C509.51,305.37 508.95,305.67 508.44,305.92 C507.94,306.17 507.13,306.61 506.62,306.62 C506.11,306.64 505.66,306.39 505.40,306.02 C505.15,305.64 505.11,305.02 505.08,304.39 C505.06,303.76 505.17,302.88 505.28,302.23 C505.38,301.58 505.52,300.95 505.69,300.50 C505.86,300.06 506.00,299.55 506.30,299.55Z" fill="#d6d83a"/>
<path d="M506.30,301.95 C506.49,301.95 506.89,302.30 507.06,302.47 C507.23,302.63 507.37,302.72 507.34,302.94 C507.31,303.15 506.74,303.48 506.88,303.75 C507.02,304.02 507.95,304.37 508.20,304.58 C508.45,304.79 508.49,304.85 508.40,305.00 C508.31,305.15 507.96,305.34 507.64,305.50 C507.32,305.66 506.82,305.93 506.50,305.94 C506.18,305.95 505.90,305.79 505.74,305.56 C505.58,305.33 505.55,304.94 505.54,304.58 C505.53,304.22 505.60,303.76 505.66,303.41 C505.72,303.05 505.81,302.71 505.92,302.47 C506.03,302.22 506.11,301.95 506.30,301.95Z" fill="#f0902a"/>
<path d="M506.30,303.49 C506.40,303.49 506.62,303.65 506.72,303.73 C506.81,303.80 506.89,303.85 506.87,303.94 C506.86,304.04 506.54,304.19 506.62,304.32 C506.70,304.44 507.21,304.60 507.35,304.70 C507.48,304.80 507.51,304.83 507.45,304.91 C507.40,304.99 507.21,305.10 507.04,305.19 C506.86,305.27 506.58,305.42 506.41,305.43 C506.24,305.43 506.08,305.34 505.99,305.22 C505.90,305.10 505.89,304.87 505.88,304.70 C505.87,304.52 505.91,304.32 505.95,304.16 C505.98,304.00 506.03,303.84 506.09,303.73 C506.15,303.62 506.20,303.49 506.30,303.49Z" fill="#e52a1e"/>
</g>
<g filter="url(#bl)">
<path d="M437.20,350.20 C438.18,350.02 440.13,350.72 440.50,351.70 C440.87,352.68 438.85,355.18 439.40,356.10 C439.95,357.02 443.80,356.65 443.80,357.20 C443.80,357.75 439.77,357.02 439.40,359.40 C439.03,361.78 441.78,368.95 441.60,371.50 C441.42,374.05 439.77,374.52 438.30,374.70 C436.83,374.88 433.53,374.60 432.80,372.60 C432.07,370.60 433.60,366.00 433.90,362.70 C434.20,359.40 434.05,354.88 434.60,352.80 C435.15,350.72 436.22,350.38 437.20,350.20Z" fill="#2d59bd"/>
<path d="M437.20,354.93 C437.99,354.80 439.55,355.32 439.84,356.06 C440.13,356.79 438.52,358.66 438.96,359.35 C439.40,360.03 442.48,359.76 442.48,360.17 C442.48,360.58 439.25,360.01 438.96,361.82 C438.67,363.62 440.87,369.04 440.72,371.00 C440.57,372.96 439.25,373.41 438.08,373.56 C436.91,373.71 434.27,373.43 433.68,371.88 C433.09,370.33 434.32,366.79 434.56,364.29 C434.80,361.79 434.68,358.44 435.12,356.88 C435.56,355.32 436.41,355.07 437.20,354.93Z" fill="#3b86d6"/>
<path d="M437.20,358.90 C437.81,358.80 439.02,359.18 439.25,359.71 C439.47,360.24 438.22,361.58 438.56,362.07 C438.90,362.56 441.29,362.37 441.29,362.66 C441.29,362.96 438.79,362.53 438.56,363.84 C438.34,365.16 440.04,369.10 439.93,370.55 C439.81,372.00 438.79,372.42 437.88,372.53 C436.97,372.65 434.93,372.39 434.47,371.23 C434.02,370.08 434.97,367.44 435.15,365.62 C435.34,363.79 435.25,361.42 435.59,360.30 C435.93,359.18 436.59,359.00 437.20,358.90Z" fill="#52b9d6"/>
<path d="M437.20,361.76 C437.67,361.69 438.61,361.96 438.78,362.34 C438.96,362.72 437.99,363.68 438.26,364.03 C438.52,364.38 440.37,364.24 440.37,364.46 C440.37,364.67 438.43,364.35 438.26,365.30 C438.08,366.26 439.40,369.13 439.31,370.20 C439.22,371.27 438.43,371.65 437.73,371.74 C437.02,371.82 435.44,371.59 435.09,370.73 C434.74,369.87 435.47,367.90 435.62,366.57 C435.76,365.25 435.69,363.56 435.95,362.76 C436.22,361.96 436.73,361.83 437.20,361.76Z" fill="#6cc35a"/>
<path d="M437.20,364.73 C437.51,364.68 438.14,364.84 438.26,365.07 C438.37,365.29 437.73,365.86 437.90,366.07 C438.08,366.28 439.31,366.19 439.31,366.32 C439.31,366.44 438.02,366.24 437.90,366.82 C437.79,367.40 438.67,369.13 438.61,369.80 C438.55,370.47 438.02,370.77 437.55,370.82 C437.08,370.88 436.03,370.69 435.79,370.15 C435.56,369.61 436.05,368.37 436.14,367.57 C436.24,366.76 436.19,365.79 436.37,365.32 C436.54,364.84 436.89,364.77 437.20,364.73Z" fill="#d6d83a"/>
<path d="M437.20,366.68 C437.40,366.66 437.79,366.74 437.86,366.87 C437.93,366.99 437.53,367.29 437.64,367.41 C437.75,367.52 438.52,367.48 438.52,367.54 C438.52,367.61 437.71,367.49 437.64,367.82 C437.57,368.14 438.12,369.11 438.08,369.50 C438.04,369.89 437.71,370.10 437.42,370.14 C437.13,370.18 436.47,370.04 436.32,369.72 C436.17,369.40 436.48,368.68 436.54,368.22 C436.60,367.77 436.57,367.26 436.68,367.00 C436.79,366.74 437.00,366.70 437.20,366.68Z" fill="#f0902a"/>
<path d="M437.20,367.93 C437.31,367.92 437.52,367.96 437.56,368.02 C437.60,368.07 437.38,368.22 437.44,368.27 C437.50,368.32 437.93,368.30 437.93,368.33 C437.93,368.36 437.48,368.30 437.44,368.46 C437.40,368.61 437.70,369.08 437.68,369.27 C437.66,369.47 437.48,369.61 437.32,369.63 C437.16,369.65 436.80,369.56 436.72,369.40 C436.64,369.23 436.80,368.86 436.84,368.64 C436.87,368.42 436.85,368.20 436.91,368.08 C436.97,367.96 437.09,367.94 437.20,367.93Z" fill="#e52a1e"/>
</g>
<g filter="url(#bl)">
<path d="M505.10,340.10 C506.75,340.47 512.25,342.35 513.90,346.30 C515.55,350.25 513.92,360.33 515.00,363.80 C516.08,367.27 519.68,365.63 520.40,367.10 C521.12,368.57 521.48,371.33 519.30,372.60 C517.12,373.87 510.03,374.88 507.30,374.70 C504.57,374.52 503.45,376.60 502.90,371.50 C502.35,366.40 503.63,349.33 504.00,344.10 C504.37,338.87 503.45,339.73 505.10,340.10Z" fill="#2d59bd"/>
<path d="M505.54,347.25 C506.86,347.53 511.26,348.93 512.58,351.89 C513.90,354.85 512.59,362.39 513.46,364.98 C514.33,367.58 517.21,366.32 517.78,367.45 C518.35,368.59 518.65,370.78 516.90,371.78 C515.15,372.78 509.49,373.61 507.30,373.46 C505.11,373.31 504.22,374.77 503.78,370.90 C503.34,367.03 504.37,354.19 504.66,350.24 C504.95,346.30 504.22,346.98 505.54,347.25Z" fill="#3b86d6"/>
<path d="M505.94,353.24 C506.96,353.44 510.37,354.45 511.39,356.57 C512.41,358.70 511.40,364.11 512.07,365.98 C512.75,367.84 514.98,366.90 515.42,367.75 C515.87,368.59 516.09,370.28 514.74,371.04 C513.39,371.81 508.99,372.46 507.30,372.34 C505.61,372.23 504.91,373.19 504.57,370.36 C504.23,367.53 505.03,358.25 505.25,355.39 C505.48,352.54 504.91,353.05 505.94,353.24Z" fill="#52b9d6"/>
<path d="M506.24,357.56 C507.04,357.70 509.68,358.43 510.47,359.95 C511.26,361.47 510.48,365.35 511.00,366.69 C511.52,368.02 513.24,367.33 513.59,367.96 C513.93,368.59 514.11,369.88 513.06,370.47 C512.01,371.05 508.61,371.56 507.30,371.48 C505.99,371.39 505.45,372.00 505.19,369.94 C504.92,367.88 505.54,361.17 505.72,359.10 C505.89,357.04 505.45,357.42 506.24,357.56Z" fill="#6cc35a"/>
<path d="M506.60,362.04 C507.12,362.13 508.88,362.55 509.41,363.45 C509.94,364.35 509.42,366.64 509.76,367.43 C510.11,368.22 511.26,367.78 511.49,368.18 C511.72,368.58 511.84,369.43 511.14,369.81 C510.44,370.20 508.17,370.54 507.30,370.48 C506.43,370.43 506.07,370.72 505.89,369.46 C505.72,368.20 506.13,364.19 506.24,362.95 C506.36,361.72 506.07,361.96 506.60,362.04Z" fill="#d6d83a"/>
<path d="M506.86,365.00 C507.19,365.04 508.29,365.27 508.62,365.76 C508.95,366.25 508.62,367.49 508.84,367.92 C509.06,368.35 509.78,368.09 509.92,368.33 C510.06,368.56 510.14,369.08 509.70,369.32 C509.26,369.56 507.85,369.78 507.30,369.74 C506.75,369.70 506.53,369.81 506.42,369.10 C506.31,368.39 506.57,366.17 506.64,365.49 C506.71,364.80 506.53,364.95 506.86,365.00Z" fill="#f0902a"/>
<path d="M507.06,366.89 C507.24,366.91 507.84,367.02 508.03,367.24 C508.21,367.46 508.03,368.04 508.15,368.23 C508.27,368.43 508.66,368.30 508.74,368.42 C508.82,368.54 508.86,368.82 508.62,368.95 C508.38,369.08 507.60,369.20 507.30,369.18 C507.00,369.16 506.88,369.17 506.82,368.83 C506.76,368.49 506.90,367.44 506.94,367.12 C506.98,366.79 506.88,366.87 507.06,366.89Z" fill="#e52a1e"/>
</g>
<rect x="405.40" y="261.40" width="68.50" height="62.10" fill="none" stroke="#111" stroke-width="1.35"/>
<rect x="425.30" y="273.50" width="29.20" height="24.70" fill="none" stroke="#111" stroke-width="1.15"/>
<text x="439.65" y="271.90" font-size="10" text-anchor="middle" font-weight="normal" fill="#111" style="">15.0</text>
<line x1="403.60" y1="270.40" x2="405.40" y2="270.40" stroke="#222" stroke-width="1.0" />
<line x1="403.60" y1="293.00" x2="405.40" y2="293.00" stroke="#222" stroke-width="1.0" />
<line x1="403.60" y1="305.20" x2="405.40" y2="305.20" stroke="#222" stroke-width="1.0" />
<line x1="403.60" y1="319.70" x2="405.40" y2="319.70" stroke="#222" stroke-width="1.0" />
<line x1="410.90" y1="323.50" x2="410.90" y2="325.30" stroke="#222" stroke-width="1.0" />
<line x1="425.60" y1="323.50" x2="425.60" y2="325.30" stroke="#222" stroke-width="1.0" />
<line x1="439.80" y1="323.50" x2="439.80" y2="325.30" stroke="#222" stroke-width="1.0" />
<line x1="465.00" y1="323.50" x2="465.00" y2="325.30" stroke="#222" stroke-width="1.0" />
<line x1="407.40" y1="323.90" x2="471.90" y2="323.90" stroke="#333" stroke-width="1.2" stroke-dasharray="4 3 2 5 6 2 3 4"/>
<line x1="405.00" y1="264.40" x2="405.00" y2="321.50" stroke="#333" stroke-width="1.1" stroke-dasharray="3 6 2 8 5 4"/>
<rect x="477.50" y="261.40" width="68.40" height="62.10" fill="none" stroke="#111" stroke-width="1.35"/>
<rect x="497.20" y="273.50" width="29.10" height="24.70" fill="none" stroke="#111" stroke-width="1.15"/>
<text x="511.70" y="271.90" font-size="10" text-anchor="middle" font-weight="normal" fill="#111" style="">20.2</text>
<line x1="475.70" y1="270.40" x2="477.50" y2="270.40" stroke="#222" stroke-width="1.0" />
<line x1="475.70" y1="293.00" x2="477.50" y2="293.00" stroke="#222" stroke-width="1.0" />
<line x1="475.70" y1="305.20" x2="477.50" y2="305.20" stroke="#222" stroke-width="1.0" />
<line x1="475.70" y1="319.70" x2="477.50" y2="319.70" stroke="#222" stroke-width="1.0" />
<line x1="483.00" y1="323.50" x2="483.00" y2="325.30" stroke="#222" stroke-width="1.0" />
<line x1="497.70" y1="323.50" x2="497.70" y2="325.30" stroke="#222" stroke-width="1.0" />
<line x1="511.90" y1="323.50" x2="511.90" y2="325.30" stroke="#222" stroke-width="1.0" />
<line x1="537.10" y1="323.50" x2="537.10" y2="325.30" stroke="#222" stroke-width="1.0" />
<line x1="479.50" y1="323.90" x2="543.90" y2="323.90" stroke="#333" stroke-width="1.2" stroke-dasharray="4 3 2 5 6 2 3 4"/>
<line x1="477.10" y1="264.40" x2="477.10" y2="321.50" stroke="#333" stroke-width="1.1" stroke-dasharray="3 6 2 8 5 4"/>
<rect x="405.40" y="326.80" width="68.50" height="61.50" fill="none" stroke="#111" stroke-width="1.35"/>
<rect x="425.20" y="339.30" width="29.50" height="24.10" fill="none" stroke="#111" stroke-width="1.15"/>
<text x="439.65" y="337.30" font-size="10" text-anchor="middle" font-weight="normal" fill="#111" style="">22.0</text>
<line x1="403.60" y1="335.80" x2="405.40" y2="335.80" stroke="#222" stroke-width="1.0" />
<line x1="403.60" y1="358.40" x2="405.40" y2="358.40" stroke="#222" stroke-width="1.0" />
<line x1="403.60" y1="370.60" x2="405.40" y2="370.60" stroke="#222" stroke-width="1.0" />
<line x1="403.60" y1="385.10" x2="405.40" y2="385.10" stroke="#222" stroke-width="1.0" />
<line x1="410.90" y1="388.30" x2="410.90" y2="390.10" stroke="#222" stroke-width="1.0" />
<line x1="425.60" y1="388.30" x2="425.60" y2="390.10" stroke="#222" stroke-width="1.0" />
<line x1="439.80" y1="388.30" x2="439.80" y2="390.10" stroke="#222" stroke-width="1.0" />
<line x1="465.00" y1="388.30" x2="465.00" y2="390.10" stroke="#222" stroke-width="1.0" />
<line x1="407.40" y1="388.70" x2="471.90" y2="388.70" stroke="#333" stroke-width="1.2" stroke-dasharray="4 3 2 5 6 2 3 4"/>
<line x1="405.00" y1="329.80" x2="405.00" y2="386.30" stroke="#333" stroke-width="1.1" stroke-dasharray="3 6 2 8 5 4"/>
<rect x="477.50" y="326.80" width="68.40" height="61.50" fill="none" stroke="#111" stroke-width="1.35"/>
<rect x="497.40" y="339.30" width="29.20" height="24.10" fill="none" stroke="#111" stroke-width="1.15"/>
<text x="511.70" y="337.30" font-size="10" text-anchor="middle" font-weight="normal" fill="#111" style="">37.5</text>
<line x1="475.70" y1="335.80" x2="477.50" y2="335.80" stroke="#222" stroke-width="1.0" />
<line x1="475.70" y1="358.40" x2="477.50" y2="358.40" stroke="#222" stroke-width="1.0" />
<line x1="475.70" y1="370.60" x2="477.50" y2="370.60" stroke="#222" stroke-width="1.0" />
<line x1="475.70" y1="385.10" x2="477.50" y2="385.10" stroke="#222" stroke-width="1.0" />
<line x1="483.00" y1="388.30" x2="483.00" y2="390.10" stroke="#222" stroke-width="1.0" />
<line x1="497.70" y1="388.30" x2="497.70" y2="390.10" stroke="#222" stroke-width="1.0" />
<line x1="511.90" y1="388.30" x2="511.90" y2="390.10" stroke="#222" stroke-width="1.0" />
<line x1="537.10" y1="388.30" x2="537.10" y2="390.10" stroke="#222" stroke-width="1.0" />
<line x1="479.50" y1="388.70" x2="543.90" y2="388.70" stroke="#333" stroke-width="1.2" stroke-dasharray="4 3 2 5 6 2 3 4"/>
<line x1="477.10" y1="329.80" x2="477.10" y2="386.30" stroke="#333" stroke-width="1.1" stroke-dasharray="3 6 2 8 5 4"/>
<line x1="405.40" y1="325.15" x2="545.90" y2="325.15" stroke="#555" stroke-width="0.9" stroke-dasharray="1.3 2.4"/>
<line x1="475.70" y1="261.40" x2="475.70" y2="388.30" stroke="#555" stroke-width="0.9" stroke-dasharray="1.3 2.4"/>
<text x="400.20" y="272.70" font-size="7.3" text-anchor="end" fill="#1a1a1a">10<tspan font-size="4.5" dy="-2.8">4</tspan></text>
<text x="400.20" y="295.30" font-size="7.3" text-anchor="end" fill="#1a1a1a">10<tspan font-size="4.5" dy="-2.8">3</tspan></text>
<text x="400.20" y="307.50" font-size="7.3" text-anchor="end" font-weight="normal" fill="#1a1a1a" style="">0</text>
<text x="400.20" y="322.00" font-size="7.3" text-anchor="end" fill="#1a1a1a">10<tspan font-size="4.5" dy="-2.8">-3</tspan></text>
<text x="400.20" y="338.10" font-size="7.3" text-anchor="end" fill="#1a1a1a">10<tspan font-size="4.5" dy="-2.8">4</tspan></text>
<text x="400.20" y="360.70" font-size="7.3" text-anchor="end" fill="#1a1a1a">10<tspan font-size="4.5" dy="-2.8">3</tspan></text>
<text x="400.20" y="372.90" font-size="7.3" text-anchor="end" font-weight="normal" fill="#1a1a1a" style="">0</text>
<text x="400.20" y="387.40" font-size="7.3" text-anchor="end" fill="#1a1a1a">10<tspan font-size="4.5" dy="-2.8">-3</tspan></text>
<text x="410.90" y="397.70" font-size="7.3" text-anchor="middle" fill="#1a1a1a">10<tspan font-size="4.5" dy="-2.8">-3</tspan></text>
<text x="425.60" y="397.70" font-size="7.3" text-anchor="middle" font-weight="normal" fill="#1a1a1a" style="">0</text>
<text x="439.80" y="397.70" font-size="7.3" text-anchor="middle" fill="#1a1a1a">10<tspan font-size="4.5" dy="-2.8">3</tspan></text>
<text x="465.00" y="397.70" font-size="7.3" text-anchor="middle" fill="#1a1a1a">10<tspan font-size="4.5" dy="-2.8">4</tspan></text>
<text x="483.00" y="397.70" font-size="7.3" text-anchor="middle" fill="#1a1a1a">10<tspan font-size="4.5" dy="-2.8">-3</tspan></text>
<text x="497.70" y="397.70" font-size="7.3" text-anchor="middle" font-weight="normal" fill="#1a1a1a" style="">0</text>
<text x="511.90" y="397.70" font-size="7.3" text-anchor="middle" fill="#1a1a1a">10<tspan font-size="4.5" dy="-2.8">3</tspan></text>
<text x="537.10" y="397.70" font-size="7.3" text-anchor="middle" fill="#1a1a1a">10<tspan font-size="4.5" dy="-2.8">4</tspan></text>
<text x="0" y="0" font-size="10" text-anchor="middle" fill="#111" transform="translate(371.00 291.60) rotate(-90)">IgG</text>
<text x="0" y="0" font-size="10" text-anchor="middle" fill="#111" transform="translate(384.50 276.50) rotate(-90)">IFN-γ</text>
<text x="0" y="0" font-size="10" text-anchor="middle" fill="#111" transform="translate(371.00 361.00) rotate(-90)">Anti-PD-1</text>
<line x1="382.30" y1="390.00" x2="382.30" y2="299.70" stroke="#222" stroke-width="1.0" />
<path d="M380.30,301.20 L382.30,296.70 L384.30,301.20 Z" stroke="none" stroke-width="1" fill="#222" />
<line x1="404.00" y1="405.00" x2="515.00" y2="405.00" stroke="#222" stroke-width="1.0" />
<path d="M513.50,403.00 L518.00,405.00 L513.50,407.00 Z" stroke="none" stroke-width="1" fill="#222" />
<text x="520.00" y="409.50" font-size="10" text-anchor="start" font-weight="normal" fill="#111" style="">CD8</text>
<text x="352.00" y="425.80" font-size="13.2" text-anchor="start" font-weight="bold" fill="#111" style="">F</text>
<text x="532.00" y="433.50" font-size="10.45" text-anchor="middle" font-weight="normal" fill="#111" style="">EO771 tumor</text>
<line x1="404.00" y1="437.40" x2="660.30" y2="437.40" stroke="#111" stroke-width="1.1" stroke-dasharray="1.5 1.5"/>
<text x="438.75" y="453.50" font-size="10" text-anchor="middle" font-weight="normal" fill="#111" style="">WT</text>
<text x="511" y="453.5" font-size="10.3" text-anchor="middle" fill="#111"><tspan font-style="italic">Aebp1</tspan> cKO</text>
<g filter="url(#bl)">
<path d="M432.10,488.20 C433.60,487.75 439.20,488.23 440.80,489.10 C442.40,489.97 439.97,491.62 441.70,493.40 C443.43,495.18 450.48,498.17 451.20,499.80 C451.92,501.43 448.60,502.50 446.00,503.20 C443.40,503.90 438.30,504.40 435.60,504.00 C432.90,503.60 430.60,502.13 429.80,500.80 C429.00,499.47 430.47,497.50 430.80,496.00 C431.13,494.50 431.58,493.10 431.80,491.80 C432.02,490.50 430.60,488.65 432.10,488.20Z" fill="#2d59bd"/>
<path d="M432.80,491.12 C434.00,490.78 438.48,491.15 439.76,491.79 C441.04,492.44 439.09,493.68 440.48,495.01 C441.87,496.35 447.51,498.55 448.08,499.80 C448.65,501.05 446.00,501.96 443.92,502.52 C441.84,503.08 437.76,503.48 435.60,503.16 C433.44,502.84 431.60,501.63 430.96,500.60 C430.32,499.57 431.49,498.09 431.76,496.96 C432.03,495.83 432.39,494.79 432.56,493.81 C432.73,492.84 431.60,491.46 432.80,491.12Z" fill="#3b86d6"/>
<path d="M433.43,493.57 C434.36,493.33 437.83,493.59 438.82,494.05 C439.82,494.52 438.31,495.40 439.38,496.36 C440.46,497.32 444.83,498.88 445.27,499.80 C445.72,500.72 443.66,501.47 442.05,501.91 C440.44,502.34 437.27,502.65 435.60,502.40 C433.93,502.16 432.50,501.19 432.00,500.42 C431.51,499.65 432.42,498.58 432.62,497.76 C432.83,496.94 433.11,496.20 433.24,495.50 C433.38,494.80 432.50,493.81 433.43,493.57Z" fill="#52b9d6"/>
<path d="M433.92,495.33 C434.64,495.16 437.33,495.35 438.10,495.68 C438.86,496.01 437.70,496.65 438.53,497.34 C439.36,498.02 442.74,499.12 443.09,499.80 C443.43,500.48 441.84,501.10 440.59,501.43 C439.34,501.77 436.90,502.01 435.60,501.82 C434.30,501.62 433.20,500.86 432.82,500.28 C432.43,499.70 433.14,498.93 433.30,498.34 C433.46,497.74 433.67,497.22 433.78,496.72 C433.88,496.22 433.20,495.51 433.92,495.33Z" fill="#6cc35a"/>
<path d="M434.48,497.16 C434.96,497.06 436.75,497.17 437.26,497.37 C437.78,497.56 437.00,497.94 437.55,498.34 C438.11,498.75 440.36,499.38 440.59,499.80 C440.82,500.22 439.76,500.66 438.93,500.89 C438.10,501.11 436.46,501.27 435.60,501.14 C434.74,501.02 434.00,500.49 433.74,500.12 C433.49,499.75 433.96,499.29 434.06,498.94 C434.17,498.58 434.31,498.28 434.38,497.98 C434.45,497.69 434.00,497.27 434.48,497.16Z" fill="#d6d83a"/>
<path d="M434.90,498.37 C435.20,498.31 436.32,498.37 436.64,498.48 C436.96,498.59 436.47,498.79 436.82,499.01 C437.17,499.23 438.58,499.56 438.72,499.80 C438.86,500.04 438.20,500.34 437.68,500.48 C437.16,500.62 436.14,500.72 435.60,500.64 C435.06,500.56 434.60,500.22 434.44,500.00 C434.28,499.78 434.57,499.53 434.64,499.33 C434.71,499.13 434.80,498.97 434.84,498.81 C434.88,498.65 434.60,498.42 434.90,498.37Z" fill="#f0902a"/>
<path d="M435.22,499.14 C435.38,499.12 436.00,499.14 436.17,499.19 C436.35,499.24 436.08,499.34 436.27,499.44 C436.46,499.54 437.24,499.68 437.32,499.80 C437.39,499.92 437.03,500.10 436.74,500.17 C436.46,500.25 435.90,500.31 435.60,500.26 C435.30,500.22 435.05,500.02 434.96,499.91 C434.87,499.80 435.04,499.68 435.07,499.58 C435.11,499.49 435.16,499.42 435.18,499.35 C435.21,499.27 435.05,499.17 435.22,499.14Z" fill="#e52a1e"/>
</g>
<g filter="url(#bl)">
<path d="M504.50,481.30 C505.08,480.88 506.00,481.22 506.50,482.30 C507.00,483.38 507.32,485.80 507.50,487.80 C507.68,489.80 506.32,492.55 507.60,494.30 C508.88,496.05 514.05,496.92 515.20,498.30 C516.35,499.68 515.87,501.65 514.50,502.60 C513.13,503.55 509.12,504.13 507.00,504.00 C504.88,503.87 502.72,503.00 501.80,501.80 C500.88,500.60 501.30,498.47 501.50,496.80 C501.70,495.13 502.75,493.80 503.00,491.80 C503.25,489.80 502.75,486.55 503.00,484.80 C503.25,483.05 503.92,481.72 504.50,481.30Z" fill="#2d59bd"/>
<path d="M504.60,485.96 C505.07,485.65 505.80,485.90 506.20,486.71 C506.60,487.52 506.85,489.33 507.00,490.82 C507.15,492.32 506.05,494.38 507.08,495.68 C508.11,496.99 512.24,497.62 513.16,498.68 C514.08,499.74 513.69,501.29 512.60,502.04 C511.51,502.79 508.29,503.27 506.60,503.16 C504.91,503.05 503.17,502.33 502.44,501.40 C501.71,500.47 502.04,498.82 502.20,497.56 C502.36,496.29 503.20,495.31 503.40,493.81 C503.60,492.32 503.20,489.89 503.40,488.58 C503.60,487.27 504.13,486.27 504.60,485.96Z" fill="#3b86d6"/>
<path d="M504.69,489.86 C505.05,489.64 505.62,489.82 505.93,490.40 C506.24,490.98 506.44,492.28 506.55,493.35 C506.66,494.43 505.82,495.91 506.61,496.85 C507.41,497.79 510.61,498.21 511.32,498.99 C512.04,499.78 511.74,500.97 510.89,501.54 C510.04,502.10 507.55,502.49 506.24,502.40 C504.93,502.32 503.58,501.74 503.02,501.04 C502.45,500.34 502.71,499.11 502.83,498.19 C502.95,497.27 503.61,496.58 503.76,495.50 C503.91,494.43 503.61,492.68 503.76,491.74 C503.91,490.80 504.33,490.09 504.69,489.86Z" fill="#52b9d6"/>
<path d="M504.76,492.67 C505.04,492.51 505.48,492.64 505.72,493.06 C505.96,493.48 506.11,494.41 506.20,495.18 C506.29,495.95 505.63,497.01 506.25,497.68 C506.86,498.36 509.34,498.65 509.90,499.22 C510.45,499.80 510.22,500.71 509.56,501.14 C508.90,501.58 506.98,501.88 505.96,501.82 C504.94,501.75 503.90,501.29 503.46,500.76 C503.02,500.23 503.22,499.32 503.32,498.64 C503.42,497.97 503.92,497.49 504.04,496.72 C504.16,495.95 503.92,494.70 504.04,494.02 C504.16,493.35 504.48,492.84 504.76,492.67Z" fill="#6cc35a"/>
<path d="M504.84,495.59 C505.03,495.50 505.32,495.58 505.48,495.82 C505.64,496.07 505.74,496.62 505.80,497.07 C505.86,497.53 505.42,498.15 505.83,498.55 C506.24,498.95 507.90,499.10 508.26,499.46 C508.63,499.82 508.48,500.42 508.04,500.70 C507.60,500.98 506.32,501.19 505.64,501.14 C504.96,501.10 504.27,500.78 503.98,500.44 C503.68,500.10 503.82,499.53 503.88,499.12 C503.94,498.71 504.28,498.44 504.36,497.98 C504.44,497.53 504.28,496.79 504.36,496.39 C504.44,495.99 504.65,495.69 504.84,495.59Z" fill="#d6d83a"/>
<path d="M504.90,497.52 C505.02,497.47 505.20,497.51 505.30,497.64 C505.40,497.77 505.46,498.07 505.50,498.32 C505.54,498.57 505.26,498.91 505.52,499.12 C505.78,499.34 506.81,499.41 507.04,499.61 C507.27,499.82 507.17,500.19 506.90,500.36 C506.63,500.53 505.82,500.67 505.40,500.64 C504.98,500.61 504.54,500.40 504.36,500.20 C504.18,500.00 504.26,499.66 504.30,499.43 C504.34,499.20 504.55,499.06 504.60,498.81 C504.65,498.57 504.55,498.16 504.60,497.95 C504.65,497.73 504.78,497.57 504.90,497.52Z" fill="#f0902a"/>
<path d="M504.94,498.75 C505.01,498.73 505.11,498.75 505.17,498.81 C505.22,498.87 505.25,499.01 505.27,499.12 C505.30,499.23 505.14,499.39 505.29,499.49 C505.43,499.59 506.00,499.61 506.12,499.71 C506.25,499.82 506.20,500.02 506.05,500.11 C505.89,500.20 505.45,500.28 505.22,500.26 C504.99,500.25 504.75,500.13 504.65,500.02 C504.55,499.91 504.59,499.74 504.62,499.63 C504.64,499.52 504.75,499.46 504.78,499.35 C504.81,499.23 504.75,499.05 504.78,498.95 C504.81,498.85 504.88,498.77 504.94,498.75Z" fill="#e52a1e"/>
</g>
<g filter="url(#bl)">
<path d="M435.50,551.60 C436.17,551.60 437.92,552.27 438.50,553.60 C439.08,554.93 438.33,557.93 439.00,559.60 C439.67,561.27 442.08,562.18 442.50,563.60 C442.92,565.02 442.50,567.18 441.50,568.10 C440.50,569.02 438.08,569.27 436.50,569.10 C434.92,568.93 432.67,568.27 432.00,567.10 C431.33,565.93 432.08,563.52 432.50,562.10 C432.92,560.68 434.17,560.02 434.50,558.60 C434.83,557.18 434.33,554.77 434.50,553.60 C434.67,552.43 434.83,551.60 435.50,551.60Z" fill="#2d59bd"/>
<path d="M435.70,554.87 C436.23,554.87 437.63,555.37 438.10,556.37 C438.57,557.37 437.97,559.61 438.50,560.86 C439.03,562.11 440.97,562.76 441.30,563.85 C441.63,564.94 441.30,566.68 440.50,567.40 C439.70,568.12 437.77,568.33 436.50,568.20 C435.23,568.07 433.43,567.51 432.90,566.60 C432.37,565.69 432.97,563.81 433.30,562.73 C433.63,561.65 434.63,561.17 434.90,560.11 C435.17,559.05 434.77,557.24 434.90,556.37 C435.03,555.50 435.17,554.87 435.70,554.87Z" fill="#3b86d6"/>
<path d="M435.88,557.62 C436.29,557.62 437.38,557.97 437.74,558.69 C438.10,559.41 437.64,561.02 438.05,561.91 C438.46,562.81 439.96,563.25 440.22,564.06 C440.48,564.87 440.22,566.22 439.60,566.77 C438.98,567.32 437.48,567.49 436.50,567.39 C435.52,567.29 434.12,566.84 433.71,566.15 C433.30,565.46 433.76,564.05 434.02,563.26 C434.28,562.46 435.05,562.14 435.26,561.38 C435.47,560.62 435.16,559.32 435.26,558.69 C435.36,558.06 435.47,557.62 435.88,557.62Z" fill="#52b9d6"/>
<path d="M436.02,559.59 C436.34,559.59 437.18,559.85 437.46,560.36 C437.74,560.88 437.38,562.03 437.70,562.67 C438.02,563.32 439.18,563.61 439.38,564.21 C439.58,564.82 439.38,565.86 438.90,566.28 C438.42,566.70 437.26,566.84 436.50,566.76 C435.74,566.68 434.66,566.32 434.34,565.80 C434.02,565.28 434.38,564.22 434.58,563.64 C434.78,563.05 435.38,562.83 435.54,562.29 C435.70,561.74 435.46,560.81 435.54,560.36 C435.62,559.91 435.70,559.59 436.02,559.59Z" fill="#6cc35a"/>
<path d="M436.18,561.64 C436.39,561.64 436.95,561.80 437.14,562.10 C437.33,562.40 437.09,563.08 437.30,563.46 C437.51,563.84 438.29,564.00 438.42,564.37 C438.55,564.75 438.42,565.44 438.10,565.72 C437.78,566.00 437.01,566.09 436.50,566.04 C435.99,565.99 435.27,565.73 435.06,565.40 C434.85,565.07 435.09,564.39 435.22,564.03 C435.35,563.67 435.75,563.56 435.86,563.24 C435.97,562.91 435.81,562.36 435.86,562.10 C435.91,561.83 435.97,561.64 436.18,561.64Z" fill="#d6d83a"/>
<path d="M436.30,563.00 C436.43,563.00 436.78,563.08 436.90,563.24 C437.02,563.41 436.87,563.78 437.00,563.98 C437.13,564.19 437.62,564.26 437.70,564.48 C437.78,564.70 437.70,565.13 437.50,565.30 C437.30,565.47 436.82,565.53 436.50,565.50 C436.18,565.47 435.73,565.30 435.60,565.10 C435.47,564.90 435.62,564.50 435.70,564.29 C435.78,564.08 436.03,564.03 436.10,563.86 C436.17,563.68 436.07,563.39 436.10,563.24 C436.13,563.10 436.17,563.00 436.30,563.00Z" fill="#f0902a"/>
<path d="M436.39,563.86 C436.46,563.86 436.66,563.90 436.72,563.98 C436.78,564.05 436.70,564.22 436.77,564.32 C436.85,564.41 437.11,564.43 437.16,564.54 C437.21,564.65 437.16,564.89 437.05,564.99 C436.94,565.08 436.67,565.11 436.50,565.10 C436.33,565.08 436.08,564.98 436.00,564.88 C435.93,564.77 436.01,564.56 436.06,564.46 C436.11,564.36 436.24,564.34 436.28,564.26 C436.32,564.18 436.26,564.04 436.28,563.98 C436.30,563.91 436.32,563.86 436.39,563.86Z" fill="#e52a1e"/>
</g>
<g filter="url(#bl)">
<path d="M435.10,542.50 C435.52,542.03 437.33,541.88 437.80,542.30 C438.27,542.72 438.32,544.53 437.90,545.00 C437.48,545.47 435.77,545.52 435.30,545.10 C434.83,544.68 434.68,542.97 435.10,542.50Z" fill="#2d59bd"/>
<path d="M435.38,542.80 C435.71,542.44 437.17,542.33 437.54,542.65 C437.91,542.98 437.95,544.38 437.62,544.74 C437.29,545.10 435.91,545.14 435.54,544.82 C435.17,544.50 435.05,543.16 435.38,542.80Z" fill="#3b86d6"/>
</g>
<g filter="url(#bl)">
<path d="M505.90,543.10 C506.82,542.77 508.15,543.10 508.90,544.10 C509.65,545.10 510.32,547.60 510.40,549.10 C510.48,550.60 509.40,551.43 509.40,553.10 C509.40,554.77 510.15,557.60 510.40,559.10 C510.65,560.60 509.92,561.10 510.90,562.10 C511.88,563.10 515.63,564.02 516.30,565.10 C516.97,566.18 516.63,567.90 514.90,568.60 C513.17,569.30 508.07,569.63 505.90,569.30 C503.73,568.97 502.57,567.97 501.90,566.60 C501.23,565.23 501.73,563.35 501.90,561.10 C502.07,558.85 502.65,555.60 502.90,553.10 C503.15,550.60 502.90,547.77 503.40,546.10 C503.90,544.43 504.98,543.43 505.90,543.10Z" fill="#2d59bd"/>
<path d="M505.90,548.64 C506.63,548.39 507.70,548.64 508.30,549.39 C508.90,550.14 509.43,552.01 509.50,553.13 C509.57,554.25 508.70,554.87 508.70,556.12 C508.70,557.37 509.30,559.49 509.50,560.61 C509.70,561.73 509.11,562.11 509.90,562.86 C510.69,563.60 513.69,564.26 514.22,565.10 C514.75,565.94 514.49,567.34 513.10,567.90 C511.71,568.46 507.63,568.73 505.90,568.46 C504.17,568.19 503.23,567.36 502.70,566.30 C502.17,565.24 502.57,563.80 502.70,562.11 C502.83,560.41 503.30,557.99 503.50,556.12 C503.70,554.25 503.50,552.13 503.90,550.88 C504.30,549.64 505.17,548.89 505.90,548.64Z" fill="#3b86d6"/>
<path d="M505.90,553.28 C506.47,553.10 507.29,553.28 507.76,553.82 C508.23,554.36 508.64,555.70 508.69,556.51 C508.74,557.31 508.07,557.76 508.07,558.65 C508.07,559.55 508.53,561.07 508.69,561.88 C508.85,562.68 508.39,562.95 509.00,563.49 C509.61,564.03 511.93,564.47 512.35,565.10 C512.76,565.73 512.55,566.84 511.48,567.27 C510.41,567.70 507.24,567.91 505.90,567.70 C504.56,567.50 503.83,566.82 503.42,566.03 C503.01,565.24 503.32,564.18 503.42,562.95 C503.52,561.72 503.88,560.00 504.04,558.65 C504.19,557.31 504.04,555.79 504.35,554.89 C504.66,554.00 505.33,553.46 505.90,553.28Z" fill="#52b9d6"/>
<path d="M505.90,556.63 C506.34,556.50 506.98,556.63 507.34,557.01 C507.70,557.40 508.02,558.36 508.06,558.94 C508.10,559.52 507.58,559.84 507.58,560.48 C507.58,561.12 507.94,562.21 508.06,562.79 C508.18,563.37 507.83,563.56 508.30,563.94 C508.77,564.33 510.57,564.63 510.89,565.10 C511.21,565.57 511.05,566.44 510.22,566.78 C509.39,567.12 506.94,567.28 505.90,567.12 C504.86,566.96 504.30,566.41 503.98,565.82 C503.66,565.23 503.90,564.45 503.98,563.56 C504.06,562.67 504.34,561.44 504.46,560.48 C504.58,559.52 504.46,558.42 504.70,557.78 C504.94,557.14 505.46,556.76 505.90,556.63Z" fill="#6cc35a"/>
<path d="M505.90,560.10 C506.19,560.02 506.62,560.10 506.86,560.33 C507.10,560.55 507.31,561.12 507.34,561.46 C507.37,561.80 507.02,561.99 507.02,562.37 C507.02,562.75 507.26,563.39 507.34,563.74 C507.42,564.08 507.19,564.19 507.50,564.42 C507.81,564.65 509.01,564.80 509.23,565.10 C509.44,565.40 509.33,566.00 508.78,566.22 C508.23,566.44 506.59,566.55 505.90,566.44 C505.21,566.34 504.83,565.96 504.62,565.58 C504.41,565.20 504.57,564.73 504.62,564.19 C504.67,563.66 504.86,562.94 504.94,562.37 C505.02,561.80 504.94,561.16 505.10,560.78 C505.26,560.40 505.61,560.17 505.90,560.10Z" fill="#d6d83a"/>
<path d="M505.90,562.39 C506.08,562.34 506.35,562.39 506.50,562.51 C506.65,562.63 506.78,562.94 506.80,563.13 C506.82,563.31 506.60,563.41 506.60,563.62 C506.60,563.82 506.75,564.17 506.80,564.36 C506.85,564.54 506.70,564.61 506.90,564.73 C507.10,564.85 507.85,564.92 507.98,565.10 C508.11,565.28 508.05,565.66 507.70,565.80 C507.35,565.94 506.33,566.01 505.90,565.94 C505.47,565.87 505.23,565.62 505.10,565.40 C504.97,565.18 505.07,564.90 505.10,564.61 C505.13,564.31 505.25,563.93 505.30,563.62 C505.35,563.31 505.30,562.96 505.40,562.76 C505.50,562.55 505.72,562.43 505.90,562.39Z" fill="#f0902a"/>
<path d="M505.90,563.85 C506.00,563.83 506.15,563.85 506.23,563.91 C506.31,563.97 506.39,564.11 506.39,564.19 C506.40,564.28 506.28,564.32 506.28,564.42 C506.28,564.51 506.37,564.67 506.39,564.76 C506.42,564.84 506.34,564.87 506.45,564.93 C506.56,564.99 506.97,565.01 507.04,565.10 C507.12,565.19 507.08,565.41 506.89,565.49 C506.70,565.56 506.14,565.60 505.90,565.56 C505.66,565.53 505.53,565.38 505.46,565.26 C505.39,565.15 505.44,565.01 505.46,564.87 C505.48,564.73 505.54,564.56 505.57,564.42 C505.60,564.28 505.57,564.12 505.62,564.02 C505.68,563.93 505.80,563.87 505.90,563.85Z" fill="#e52a1e"/>
</g>
<rect x="405.40" y="457.90" width="68.10" height="61.90" fill="none" stroke="#111" stroke-width="1.35"/>
<rect x="424.10" y="473.60" width="27.40" height="21.90" fill="none" stroke="#111" stroke-width="1.15"/>
<text x="439.45" y="470.90" font-size="10" text-anchor="middle" font-weight="normal" fill="#111" style="">5.19</text>
<line x1="403.60" y1="467.90" x2="405.40" y2="467.90" stroke="#222" stroke-width="1.0" />
<line x1="403.60" y1="488.75" x2="405.40" y2="488.75" stroke="#222" stroke-width="1.0" />
<line x1="403.60" y1="502.60" x2="405.40" y2="502.60" stroke="#222" stroke-width="1.0" />
<line x1="403.60" y1="515.80" x2="405.40" y2="515.80" stroke="#222" stroke-width="1.0" />
<line x1="410.40" y1="519.80" x2="410.40" y2="521.60" stroke="#222" stroke-width="1.0" />
<line x1="424.00" y1="519.80" x2="424.00" y2="521.60" stroke="#222" stroke-width="1.0" />
<line x1="438.90" y1="519.80" x2="438.90" y2="521.60" stroke="#222" stroke-width="1.0" />
<line x1="464.40" y1="519.80" x2="464.40" y2="521.60" stroke="#222" stroke-width="1.0" />
<line x1="407.40" y1="520.20" x2="471.50" y2="520.20" stroke="#333" stroke-width="1.2" stroke-dasharray="4 3 2 5 6 2 3 4"/>
<line x1="405.00" y1="460.90" x2="405.00" y2="517.80" stroke="#333" stroke-width="1.1" stroke-dasharray="3 6 2 8 5 4"/>
<rect x="477.30" y="457.90" width="66.30" height="61.90" fill="none" stroke="#111" stroke-width="1.35"/>
<rect x="495.20" y="473.60" width="27.00" height="21.90" fill="none" stroke="#111" stroke-width="1.15"/>
<text x="510.45" y="470.90" font-size="10" text-anchor="middle" font-weight="normal" fill="#111" style="">12.7</text>
<line x1="475.50" y1="467.90" x2="477.30" y2="467.90" stroke="#222" stroke-width="1.0" />
<line x1="475.50" y1="488.75" x2="477.30" y2="488.75" stroke="#222" stroke-width="1.0" />
<line x1="475.50" y1="502.60" x2="477.30" y2="502.60" stroke="#222" stroke-width="1.0" />
<line x1="475.50" y1="515.80" x2="477.30" y2="515.80" stroke="#222" stroke-width="1.0" />
<line x1="482.30" y1="519.80" x2="482.30" y2="521.60" stroke="#222" stroke-width="1.0" />
<line x1="495.90" y1="519.80" x2="495.90" y2="521.60" stroke="#222" stroke-width="1.0" />
<line x1="510.80" y1="519.80" x2="510.80" y2="521.60" stroke="#222" stroke-width="1.0" />
<line x1="536.30" y1="519.80" x2="536.30" y2="521.60" stroke="#222" stroke-width="1.0" />
<line x1="479.30" y1="520.20" x2="541.60" y2="520.20" stroke="#333" stroke-width="1.2" stroke-dasharray="4 3 2 5 6 2 3 4"/>
<line x1="476.90" y1="460.90" x2="476.90" y2="517.80" stroke="#333" stroke-width="1.1" stroke-dasharray="3 6 2 8 5 4"/>
<rect x="405.40" y="522.80" width="68.10" height="61.80" fill="none" stroke="#111" stroke-width="1.35"/>
<rect x="424.10" y="538.60" width="27.40" height="21.50" fill="none" stroke="#111" stroke-width="1.15"/>
<text x="439.45" y="535.80" font-size="10" text-anchor="middle" font-weight="normal" fill="#111" style="">11.0</text>
<line x1="403.60" y1="532.80" x2="405.40" y2="532.80" stroke="#222" stroke-width="1.0" />
<line x1="403.60" y1="553.65" x2="405.40" y2="553.65" stroke="#222" stroke-width="1.0" />
<line x1="403.60" y1="567.50" x2="405.40" y2="567.50" stroke="#222" stroke-width="1.0" />
<line x1="403.60" y1="580.70" x2="405.40" y2="580.70" stroke="#222" stroke-width="1.0" />
<line x1="410.40" y1="584.60" x2="410.40" y2="586.40" stroke="#222" stroke-width="1.0" />
<line x1="424.00" y1="584.60" x2="424.00" y2="586.40" stroke="#222" stroke-width="1.0" />
<line x1="438.90" y1="584.60" x2="438.90" y2="586.40" stroke="#222" stroke-width="1.0" />
<line x1="464.40" y1="584.60" x2="464.40" y2="586.40" stroke="#222" stroke-width="1.0" />
<line x1="407.40" y1="585.00" x2="471.50" y2="585.00" stroke="#333" stroke-width="1.2" stroke-dasharray="4 3 2 5 6 2 3 4"/>
<line x1="405.00" y1="525.80" x2="405.00" y2="582.60" stroke="#333" stroke-width="1.1" stroke-dasharray="3 6 2 8 5 4"/>
<rect x="477.30" y="522.80" width="66.30" height="61.80" fill="none" stroke="#111" stroke-width="1.35"/>
<rect x="495.20" y="538.60" width="27.00" height="21.50" fill="none" stroke="#111" stroke-width="1.15"/>
<text x="510.45" y="535.80" font-size="10" text-anchor="middle" font-weight="normal" fill="#111" style="">18.6</text>
<line x1="475.50" y1="532.80" x2="477.30" y2="532.80" stroke="#222" stroke-width="1.0" />
<line x1="475.50" y1="553.65" x2="477.30" y2="553.65" stroke="#222" stroke-width="1.0" />
<line x1="475.50" y1="567.50" x2="477.30" y2="567.50" stroke="#222" stroke-width="1.0" />
<line x1="475.50" y1="580.70" x2="477.30" y2="580.70" stroke="#222" stroke-width="1.0" />
<line x1="482.30" y1="584.60" x2="482.30" y2="586.40" stroke="#222" stroke-width="1.0" />
<line x1="495.90" y1="584.60" x2="495.90" y2="586.40" stroke="#222" stroke-width="1.0" />
<line x1="510.80" y1="584.60" x2="510.80" y2="586.40" stroke="#222" stroke-width="1.0" />
<line x1="536.30" y1="584.60" x2="536.30" y2="586.40" stroke="#222" stroke-width="1.0" />
<line x1="479.30" y1="585.00" x2="541.60" y2="585.00" stroke="#333" stroke-width="1.2" stroke-dasharray="4 3 2 5 6 2 3 4"/>
<line x1="476.90" y1="525.80" x2="476.90" y2="582.60" stroke="#333" stroke-width="1.1" stroke-dasharray="3 6 2 8 5 4"/>
<line x1="405.40" y1="521.30" x2="543.60" y2="521.30" stroke="#555" stroke-width="0.9" stroke-dasharray="1.3 2.4"/>
<line x1="475.40" y1="457.90" x2="475.40" y2="584.60" stroke="#555" stroke-width="0.9" stroke-dasharray="1.3 2.4"/>
<text x="401.00" y="470.20" font-size="7.3" text-anchor="end" fill="#1a1a1a">10<tspan font-size="4.5" dy="-2.8">4</tspan></text>
<text x="401.00" y="491.05" font-size="7.3" text-anchor="end" fill="#1a1a1a">10<tspan font-size="4.5" dy="-2.8">3</tspan></text>
<text x="401.00" y="504.90" font-size="7.3" text-anchor="end" font-weight="normal" fill="#1a1a1a" style="">0</text>
<text x="401.00" y="518.10" font-size="7.3" text-anchor="end" fill="#1a1a1a">10<tspan font-size="4.5" dy="-2.8">-3</tspan></text>
<text x="401.00" y="535.10" font-size="7.3" text-anchor="end" fill="#1a1a1a">10<tspan font-size="4.5" dy="-2.8">4</tspan></text>
<text x="401.00" y="555.95" font-size="7.3" text-anchor="end" fill="#1a1a1a">10<tspan font-size="4.5" dy="-2.8">3</tspan></text>
<text x="401.00" y="569.80" font-size="7.3" text-anchor="end" font-weight="normal" fill="#1a1a1a" style="">0</text>
<text x="401.00" y="583.00" font-size="7.3" text-anchor="end" fill="#1a1a1a">10<tspan font-size="4.5" dy="-2.8">-3</tspan></text>
<text x="410.40" y="593.50" font-size="7.3" text-anchor="middle" fill="#1a1a1a">10<tspan font-size="4.5" dy="-2.8">-3</tspan></text>
<text x="424.00" y="593.50" font-size="7.3" text-anchor="middle" font-weight="normal" fill="#1a1a1a" style="">0</text>
<text x="438.90" y="593.50" font-size="7.3" text-anchor="middle" fill="#1a1a1a">10<tspan font-size="4.5" dy="-2.8">3</tspan></text>
<text x="464.40" y="593.50" font-size="7.3" text-anchor="middle" fill="#1a1a1a">10<tspan font-size="4.5" dy="-2.8">4</tspan></text>
<text x="482.30" y="593.50" font-size="7.3" text-anchor="middle" fill="#1a1a1a">10<tspan font-size="4.5" dy="-2.8">-3</tspan></text>
<text x="495.90" y="593.50" font-size="7.3" text-anchor="middle" font-weight="normal" fill="#1a1a1a" style="">0</text>
<text x="510.80" y="593.50" font-size="7.3" text-anchor="middle" fill="#1a1a1a">10<tspan font-size="4.5" dy="-2.8">3</tspan></text>
<text x="536.30" y="593.50" font-size="7.3" text-anchor="middle" fill="#1a1a1a">10<tspan font-size="4.5" dy="-2.8">4</tspan></text>
<text x="0" y="0" font-size="10" text-anchor="middle" fill="#111" transform="translate(372.00 492.20) rotate(-90)">IgG</text>
<text x="0" y="0" font-size="10" text-anchor="middle" fill="#111" transform="translate(388.00 478.30) rotate(-90)">TNF-α</text>
<text x="0" y="0" font-size="10" text-anchor="middle" fill="#111" transform="translate(373.50 556.50) rotate(-90)">Anti-PD-1</text>
<line x1="384.00" y1="587.00" x2="384.00" y2="498.00" stroke="#222" stroke-width="1.0" />
<path d="M382.00,499.50 L384.00,495.00 L386.00,499.50 Z" stroke="none" stroke-width="1" fill="#222" />
<line x1="403.00" y1="601.50" x2="515.00" y2="601.50" stroke="#222" stroke-width="1.0" />
<path d="M513.50,599.50 L518.00,601.50 L513.50,603.50 Z" stroke="none" stroke-width="1" fill="#222" />
<text x="520.00" y="605.00" font-size="10" text-anchor="start" font-weight="normal" fill="#111" style="">CD8</text>
<line x1="206.00" y1="252.50" x2="214.40" y2="252.50" stroke="#2e5cbe" stroke-width="1.3" />
<path d="M207.70,252.50 L210.20,250.00 L212.70,252.50 L210.20,255.00 Z" fill="#2e5cbe"/>
<text x="216.70" y="256.00" font-size="10.30" fill="#111">IgG</text>
<line x1="206.00" y1="263.50" x2="214.40" y2="263.50" stroke="#cc2038" stroke-width="1.3" />
<circle cx="210.20" cy="263.50" r="2.5" fill="#cc2038"/>
<text x="216.70" y="267.00" font-size="10.30" fill="#111"><tspan font-style="italic">Aebp1</tspan> cKO</text>
<line x1="206.00" y1="274.50" x2="214.40" y2="274.50" stroke="#177040" stroke-width="1.3" />
<path d="M207.70,274.50 L210.20,272.00 L212.70,274.50 L210.20,277.00 Z" fill="#177040"/>
<text x="216.70" y="278.00" font-size="10.30" fill="#111">Anti-CTLA-4</text>
<line x1="206.00" y1="285.50" x2="214.40" y2="285.50" stroke="#8a5cb8" stroke-width="1.3" />
<path d="M207.70,285.50 L210.20,283.00 L212.70,285.50 L210.20,288.00 Z" fill="#8a5cb8"/>
<text x="216.70" y="289.00" font-size="10.30" fill="#111"><tspan font-style="italic">Aebp1</tspan> cKO+Anti-CTLA-4</text>
<path d="M241.70,397.10 V387.50 H253.50 V397.10" fill="none" stroke="#2e5cbe" stroke-width="1.4"/>
<line x1="247.60" y1="389.10" x2="247.60" y2="385.90" stroke="#2e5cbe" stroke-width="1.1" />
<line x1="245.10" y1="385.90" x2="250.10" y2="385.90" stroke="#2e5cbe" stroke-width="1.1" />
<line x1="245.10" y1="389.10" x2="250.10" y2="389.10" stroke="#2e5cbe" stroke-width="1.1" />
<circle cx="244.60" cy="388.30" r="2.2" fill="#2e5cbe"/>
<circle cx="247.60" cy="385.10" r="2.2" fill="#2e5cbe"/>
<circle cx="250.60" cy="387.50" r="2.2" fill="#2e5cbe"/>
<circle cx="243.10" cy="386.70" r="2.2" fill="#2e5cbe"/>
<circle cx="252.10" cy="388.62" r="2.2" fill="#2e5cbe"/>
<circle cx="249.10" cy="384.30" r="2.2" fill="#2e5cbe"/>
<path d="M259.90,397.10 V366.70 H271.70 V397.10" fill="none" stroke="#cc2038" stroke-width="1.4"/>
<line x1="265.80" y1="368.62" x2="265.80" y2="364.78" stroke="#cc2038" stroke-width="1.1" />
<line x1="263.30" y1="364.78" x2="268.30" y2="364.78" stroke="#cc2038" stroke-width="1.1" />
<line x1="263.30" y1="368.62" x2="268.30" y2="368.62" stroke="#cc2038" stroke-width="1.1" />
<rect x="259.71" y="367.81" width="4.18" height="4.18" fill="#cc2038"/>
<rect x="263.71" y="358.21" width="4.18" height="4.18" fill="#cc2038"/>
<rect x="267.71" y="366.21" width="4.18" height="4.18" fill="#cc2038"/>
<rect x="259.21" y="363.01" width="4.18" height="4.18" fill="#cc2038"/>
<rect x="268.21" y="363.81" width="4.18" height="4.18" fill="#cc2038"/>
<rect x="263.71" y="368.61" width="4.18" height="4.18" fill="#cc2038"/>
<path d="M279.60,397.10 V366.70 H291.40 V397.10" fill="none" stroke="#177040" stroke-width="1.4"/>
<line x1="285.50" y1="367.98" x2="285.50" y2="365.42" stroke="#177040" stroke-width="1.1" />
<line x1="283.00" y1="365.42" x2="288.00" y2="365.42" stroke="#177040" stroke-width="1.1" />
<line x1="283.00" y1="367.98" x2="288.00" y2="367.98" stroke="#177040" stroke-width="1.1" />
<circle cx="281.50" cy="368.30" r="2.2" fill="#177040"/>
<circle cx="285.50" cy="363.50" r="2.2" fill="#177040"/>
<circle cx="289.50" cy="366.70" r="2.2" fill="#177040"/>
<circle cx="281.00" cy="365.10" r="2.2" fill="#177040"/>
<circle cx="290.00" cy="367.50" r="2.2" fill="#177040"/>
<circle cx="287.00" cy="369.10" r="2.2" fill="#177040"/>
<path d="M298.10,397.10 V341.90 H309.90 V397.10" fill="none" stroke="#8a5cb8" stroke-width="1.4"/>
<line x1="304.00" y1="347.02" x2="304.00" y2="336.78" stroke="#8a5cb8" stroke-width="1.1" />
<line x1="301.50" y1="336.78" x2="306.50" y2="336.78" stroke="#8a5cb8" stroke-width="1.1" />
<line x1="301.50" y1="347.02" x2="306.50" y2="347.02" stroke="#8a5cb8" stroke-width="1.1" />
<path d="M297.36,347.25 L302.64,347.25 L300.00,351.74 Z" fill="#8a5cb8"/>
<path d="M301.36,321.65 L306.64,321.65 L304.00,326.14 Z" fill="#8a5cb8"/>
<path d="M305.36,341.65 L310.64,341.65 L308.00,346.14 Z" fill="#8a5cb8"/>
<path d="M296.86,339.25 L302.14,339.25 L299.50,343.74 Z" fill="#8a5cb8"/>
<path d="M305.86,340.05 L311.14,340.05 L308.50,344.54 Z" fill="#8a5cb8"/>
<path d="M302.86,344.85 L308.14,344.85 L305.50,349.34 Z" fill="#8a5cb8"/>
<line x1="235.10" y1="316.60" x2="235.10" y2="397.70" stroke="#1c1c1c" stroke-width="1.3" />
<line x1="234.50" y1="397.10" x2="313.60" y2="397.10" stroke="#1c1c1c" stroke-width="1.3" />
<line x1="232.10" y1="397.10" x2="235.10" y2="397.10" stroke="#1c1c1c" stroke-width="1.2" />
<text x="230.10" y="399.60" font-size="7.1" text-anchor="end" font-weight="normal" fill="#222" style="">0</text>
<line x1="232.10" y1="381.10" x2="235.10" y2="381.10" stroke="#1c1c1c" stroke-width="1.2" />
<text x="230.10" y="383.60" font-size="7.1" text-anchor="end" font-weight="normal" fill="#222" style="">10</text>
<line x1="232.10" y1="365.10" x2="235.10" y2="365.10" stroke="#1c1c1c" stroke-width="1.2" />
<text x="230.10" y="367.60" font-size="7.1" text-anchor="end" font-weight="normal" fill="#222" style="">20</text>
<line x1="232.10" y1="349.10" x2="235.10" y2="349.10" stroke="#1c1c1c" stroke-width="1.2" />
<text x="230.10" y="351.60" font-size="7.1" text-anchor="end" font-weight="normal" fill="#222" style="">30</text>
<line x1="232.10" y1="333.10" x2="235.10" y2="333.10" stroke="#1c1c1c" stroke-width="1.2" />
<text x="230.10" y="335.60" font-size="7.1" text-anchor="end" font-weight="normal" fill="#222" style="">40</text>
<line x1="232.10" y1="317.10" x2="235.10" y2="317.10" stroke="#1c1c1c" stroke-width="1.2" />
<text x="230.10" y="319.60" font-size="7.1" text-anchor="end" font-weight="normal" fill="#222" style="">50</text>
<text x="275.60" y="306.20" font-size="7.6" text-anchor="middle" fill="#333"><tspan font-style="italic">P</tspan> <tspan dx="1.3">&lt;</tspan><tspan dx="1.3"> 0.0001</tspan></text>
<line x1="247.60" y1="308.60" x2="303.70" y2="308.60" stroke="#2a2a2a" stroke-width="1.35" />
<text x="294.00" y="316.30" font-size="7.6" text-anchor="middle" fill="#333">P &lt; 0.0001</text>
<line x1="284.00" y1="319.90" x2="303.70" y2="319.90" stroke="#2a2a2a" stroke-width="1.35" />
<text x="265.30" y="329.50" font-size="7.6" text-anchor="middle" fill="#333"><tspan font-style="italic">P</tspan> = 0.0003</text>
<line x1="247.60" y1="331.70" x2="285.50" y2="331.70" stroke="#2a2a2a" stroke-width="1.35" />
<text x="255.00" y="339.90" font-size="7.6" text-anchor="middle" fill="#333"><tspan font-style="italic">P</tspan> = 0.0005</text>
<line x1="247.60" y1="343.20" x2="265.80" y2="343.20" stroke="#2a2a2a" stroke-width="1.35" />
<text x="0" y="0" font-size="10.45" text-anchor="middle" fill="#111" transform="translate(215.40 357.00) rotate(-90)">IFN-γ<tspan font-size="6.5" dy="-3.5">+</tspan><tspan dy="3.5"> (% of CD8</tspan><tspan font-size="6.5" dy="-3.5">+</tspan><tspan dy="3.5">)</tspan></text>
<line x1="201.70" y1="449.00" x2="210.10" y2="449.00" stroke="#2e5cbe" stroke-width="1.3" />
<path d="M203.40,449.00 L205.90,446.50 L208.40,449.00 L205.90,451.50 Z" fill="#2e5cbe"/>
<text x="212.40" y="452.50" font-size="10.30" fill="#111">IgG</text>
<line x1="201.70" y1="459.70" x2="210.10" y2="459.70" stroke="#cc2038" stroke-width="1.3" />
<circle cx="205.90" cy="459.70" r="2.5" fill="#cc2038"/>
<text x="212.40" y="463.20" font-size="10.30" fill="#111"><tspan font-style="italic">Aebp1</tspan> cKO</text>
<line x1="201.70" y1="470.40" x2="210.10" y2="470.40" stroke="#177040" stroke-width="1.3" />
<path d="M203.40,470.40 L205.90,467.90 L208.40,470.40 L205.90,472.90 Z" fill="#177040"/>
<text x="212.40" y="473.90" font-size="10.30" fill="#111">Anti-CTLA-4</text>
<line x1="201.70" y1="481.10" x2="210.10" y2="481.10" stroke="#8a5cb8" stroke-width="1.3" />
<path d="M203.40,481.10 L205.90,478.60 L208.40,481.10 L205.90,483.60 Z" fill="#8a5cb8"/>
<text x="212.40" y="484.60" font-size="10.30" fill="#111"><tspan font-style="italic">Aebp1</tspan> cKO+Anti-CTLA-4</text>
<path d="M234.50,591.00 V581.64 H246.30 V591.00" fill="none" stroke="#2e5cbe" stroke-width="1.4"/>
<line x1="240.40" y1="583.51" x2="240.40" y2="579.77" stroke="#2e5cbe" stroke-width="1.1" />
<line x1="237.90" y1="579.77" x2="242.90" y2="579.77" stroke="#2e5cbe" stroke-width="1.1" />
<line x1="237.90" y1="583.51" x2="242.90" y2="583.51" stroke="#2e5cbe" stroke-width="1.1" />
<circle cx="236.40" cy="584.76" r="2.2" fill="#2e5cbe"/>
<circle cx="240.40" cy="580.08" r="2.2" fill="#2e5cbe"/>
<circle cx="244.40" cy="580.08" r="2.2" fill="#2e5cbe"/>
<circle cx="235.90" cy="581.64" r="2.2" fill="#2e5cbe"/>
<circle cx="244.90" cy="583.20" r="2.2" fill="#2e5cbe"/>
<circle cx="240.40" cy="584.76" r="2.2" fill="#2e5cbe"/>
<path d="M252.90,591.00 V564.48 H264.70 V591.00" fill="none" stroke="#cc2038" stroke-width="1.4"/>
<line x1="258.80" y1="566.04" x2="258.80" y2="562.92" stroke="#cc2038" stroke-width="1.1" />
<line x1="256.30" y1="562.92" x2="261.30" y2="562.92" stroke="#cc2038" stroke-width="1.1" />
<line x1="256.30" y1="566.04" x2="261.30" y2="566.04" stroke="#cc2038" stroke-width="1.1" />
<rect x="252.71" y="563.95" width="4.18" height="4.18" fill="#cc2038"/>
<rect x="256.71" y="559.27" width="4.18" height="4.18" fill="#cc2038"/>
<rect x="260.71" y="562.39" width="4.18" height="4.18" fill="#cc2038"/>
<rect x="252.21" y="561.61" width="4.18" height="4.18" fill="#cc2038"/>
<rect x="261.21" y="563.17" width="4.18" height="4.18" fill="#cc2038"/>
<rect x="257.71" y="562.39" width="4.18" height="4.18" fill="#cc2038"/>
<path d="M272.80,591.00 V563.70 H284.60 V591.00" fill="none" stroke="#177040" stroke-width="1.4"/>
<line x1="278.70" y1="565.26" x2="278.70" y2="562.14" stroke="#177040" stroke-width="1.1" />
<line x1="276.20" y1="562.14" x2="281.20" y2="562.14" stroke="#177040" stroke-width="1.1" />
<line x1="276.20" y1="565.26" x2="281.20" y2="565.26" stroke="#177040" stroke-width="1.1" />
<circle cx="274.70" cy="564.48" r="2.2" fill="#177040"/>
<circle cx="278.70" cy="561.36" r="2.2" fill="#177040"/>
<circle cx="282.70" cy="562.92" r="2.2" fill="#177040"/>
<circle cx="274.20" cy="562.92" r="2.2" fill="#177040"/>
<circle cx="283.20" cy="563.70" r="2.2" fill="#177040"/>
<circle cx="278.70" cy="569.16" r="2.2" fill="#177040"/>
<path d="M291.10,591.00 V536.40 H302.90 V591.00" fill="none" stroke="#8a5cb8" stroke-width="1.4"/>
<line x1="297.00" y1="539.52" x2="297.00" y2="533.28" stroke="#8a5cb8" stroke-width="1.1" />
<line x1="294.50" y1="533.28" x2="299.50" y2="533.28" stroke="#8a5cb8" stroke-width="1.1" />
<line x1="294.50" y1="539.52" x2="299.50" y2="539.52" stroke="#8a5cb8" stroke-width="1.1" />
<path d="M290.36,537.67 L295.64,537.67 L293.00,542.16 Z" fill="#8a5cb8"/>
<path d="M294.36,524.41 L299.64,524.41 L297.00,528.90 Z" fill="#8a5cb8"/>
<path d="M298.36,536.11 L303.64,536.11 L301.00,540.60 Z" fill="#8a5cb8"/>
<path d="M289.86,529.87 L295.14,529.87 L292.50,534.36 Z" fill="#8a5cb8"/>
<path d="M298.86,531.43 L304.14,531.43 L301.50,535.92 Z" fill="#8a5cb8"/>
<path d="M295.36,540.79 L300.64,540.79 L298.00,545.28 Z" fill="#8a5cb8"/>
<line x1="227.60" y1="512.50" x2="227.60" y2="591.60" stroke="#1c1c1c" stroke-width="1.3" />
<line x1="227.00" y1="591.00" x2="309.20" y2="591.00" stroke="#1c1c1c" stroke-width="1.3" />
<line x1="224.60" y1="591.00" x2="227.60" y2="591.00" stroke="#1c1c1c" stroke-width="1.2" />
<text x="222.60" y="593.50" font-size="7.1" text-anchor="end" font-weight="normal" fill="#222" style="">0</text>
<line x1="224.60" y1="575.40" x2="227.60" y2="575.40" stroke="#1c1c1c" stroke-width="1.2" />
<text x="222.60" y="577.90" font-size="7.1" text-anchor="end" font-weight="normal" fill="#222" style="">10</text>
<line x1="224.60" y1="559.80" x2="227.60" y2="559.80" stroke="#1c1c1c" stroke-width="1.2" />
<text x="222.60" y="562.30" font-size="7.1" text-anchor="end" font-weight="normal" fill="#222" style="">20</text>
<line x1="224.60" y1="544.20" x2="227.60" y2="544.20" stroke="#1c1c1c" stroke-width="1.2" />
<text x="222.60" y="546.70" font-size="7.1" text-anchor="end" font-weight="normal" fill="#222" style="">30</text>
<line x1="224.60" y1="528.60" x2="227.60" y2="528.60" stroke="#1c1c1c" stroke-width="1.2" />
<text x="222.60" y="531.10" font-size="7.1" text-anchor="end" font-weight="normal" fill="#222" style="">40</text>
<line x1="224.60" y1="513.00" x2="227.60" y2="513.00" stroke="#1c1c1c" stroke-width="1.2" />
<text x="222.60" y="515.50" font-size="7.1" text-anchor="end" font-weight="normal" fill="#222" style="">50</text>
<text x="268.90" y="507.60" font-size="7.6" text-anchor="middle" fill="#333"><tspan font-style="italic">P</tspan> <tspan dx="1.3">&lt;</tspan><tspan dx="1.3"> 0.0001</tspan></text>
<line x1="240.40" y1="510.20" x2="297.00" y2="510.20" stroke="#2a2a2a" stroke-width="1.35" />
<text x="287.80" y="518.90" font-size="7.6" text-anchor="middle" fill="#333"><tspan font-style="italic">P</tspan> <tspan dx="1.3">&lt;</tspan><tspan dx="1.3"> 0.0001</tspan></text>
<line x1="278.70" y1="520.90" x2="297.00" y2="520.90" stroke="#2a2a2a" stroke-width="1.35" />
<text x="259.70" y="529.60" font-size="7.6" text-anchor="middle" fill="#333"><tspan font-style="italic">P</tspan> = 0.0001</text>
<line x1="240.40" y1="531.60" x2="278.70" y2="531.60" stroke="#2a2a2a" stroke-width="1.35" />
<text x="250.50" y="540.90" font-size="7.6" text-anchor="middle" fill="#333"><tspan font-style="italic">P</tspan> = 0.0002</text>
<line x1="240.40" y1="543.80" x2="258.80" y2="543.80" stroke="#2a2a2a" stroke-width="1.35" />
<text x="0" y="0" font-size="10.45" text-anchor="middle" fill="#111" transform="translate(210.20 546.70) rotate(-90)">TNF-α<tspan font-size="6.5" dy="-3.5">+</tspan><tspan dy="3.5"> (% of CD8</tspan><tspan font-size="6.5" dy="-3.5">+</tspan><tspan dy="3.5">)</tspan></text>
<line x1="562.05" y1="251.30" x2="570.45" y2="251.30" stroke="#2e5cbe" stroke-width="1.3" />
<path d="M563.75,251.30 L566.25,248.80 L568.75,251.30 L566.25,253.80 Z" fill="#2e5cbe"/>
<text x="572.75" y="254.80" font-size="10.30" fill="#111">IgG</text>
<line x1="562.05" y1="262.20" x2="570.45" y2="262.20" stroke="#cc2038" stroke-width="1.3" />
<circle cx="566.25" cy="262.20" r="2.5" fill="#cc2038"/>
<text x="572.75" y="265.70" font-size="10.30" fill="#111"><tspan font-style="italic">Aebp1</tspan> cKO</text>
<line x1="562.05" y1="273.10" x2="570.45" y2="273.10" stroke="#177040" stroke-width="1.3" />
<path d="M563.75,273.10 L566.25,270.60 L568.75,273.10 L566.25,275.60 Z" fill="#177040"/>
<text x="572.75" y="276.60" font-size="10.30" fill="#111">Anti-PD-1</text>
<line x1="562.05" y1="284.00" x2="570.45" y2="284.00" stroke="#8a5cb8" stroke-width="1.3" />
<path d="M563.75,284.00 L566.25,281.50 L568.75,284.00 L566.25,286.50 Z" fill="#8a5cb8"/>
<text x="572.75" y="287.50" font-size="10.30" fill="#111"><tspan font-style="italic">Aebp1</tspan> cKO+Anti-PD-1</text>
<path d="M594.00,390.20 V368.08 H605.80 V390.20" fill="none" stroke="#2e5cbe" stroke-width="1.4"/>
<line x1="599.90" y1="369.66" x2="599.90" y2="366.50" stroke="#2e5cbe" stroke-width="1.1" />
<line x1="597.40" y1="366.50" x2="602.40" y2="366.50" stroke="#2e5cbe" stroke-width="1.1" />
<line x1="597.40" y1="369.66" x2="602.40" y2="369.66" stroke="#2e5cbe" stroke-width="1.1" />
<circle cx="595.90" cy="369.66" r="2.2" fill="#2e5cbe"/>
<circle cx="599.90" cy="364.92" r="2.2" fill="#2e5cbe"/>
<circle cx="603.90" cy="368.08" r="2.2" fill="#2e5cbe"/>
<circle cx="595.40" cy="366.50" r="2.2" fill="#2e5cbe"/>
<circle cx="604.40" cy="367.29" r="2.2" fill="#2e5cbe"/>
<circle cx="600.90" cy="368.87" r="2.2" fill="#2e5cbe"/>
<path d="M613.30,390.20 V357.02 H625.10 V390.20" fill="none" stroke="#cc2038" stroke-width="1.4"/>
<line x1="619.20" y1="358.92" x2="619.20" y2="355.12" stroke="#cc2038" stroke-width="1.1" />
<line x1="616.70" y1="355.12" x2="621.70" y2="355.12" stroke="#cc2038" stroke-width="1.1" />
<line x1="616.70" y1="358.92" x2="621.70" y2="358.92" stroke="#cc2038" stroke-width="1.1" />
<rect x="613.11" y="356.51" width="4.18" height="4.18" fill="#cc2038"/>
<rect x="617.11" y="347.03" width="4.18" height="4.18" fill="#cc2038"/>
<rect x="621.11" y="354.93" width="4.18" height="4.18" fill="#cc2038"/>
<rect x="612.61" y="353.35" width="4.18" height="4.18" fill="#cc2038"/>
<rect x="621.61" y="355.72" width="4.18" height="4.18" fill="#cc2038"/>
<rect x="618.11" y="354.93" width="4.18" height="4.18" fill="#cc2038"/>
<path d="M631.80,390.20 V353.86 H643.60 V390.20" fill="none" stroke="#177040" stroke-width="1.4"/>
<line x1="637.70" y1="354.65" x2="637.70" y2="353.07" stroke="#177040" stroke-width="1.1" />
<line x1="635.20" y1="353.07" x2="640.20" y2="353.07" stroke="#177040" stroke-width="1.1" />
<line x1="635.20" y1="354.65" x2="640.20" y2="354.65" stroke="#177040" stroke-width="1.1" />
<circle cx="633.70" cy="353.86" r="2.2" fill="#177040"/>
<circle cx="637.70" cy="353.07" r="2.2" fill="#177040"/>
<circle cx="641.70" cy="353.86" r="2.2" fill="#177040"/>
<circle cx="633.20" cy="353.07" r="2.2" fill="#177040"/>
<circle cx="642.20" cy="354.65" r="2.2" fill="#177040"/>
<circle cx="638.70" cy="353.86" r="2.2" fill="#177040"/>
<path d="M650.50,390.20 V328.58 H662.30 V390.20" fill="none" stroke="#8a5cb8" stroke-width="1.4"/>
<line x1="656.40" y1="330.48" x2="656.40" y2="326.68" stroke="#8a5cb8" stroke-width="1.1" />
<line x1="653.90" y1="326.68" x2="658.90" y2="326.68" stroke="#8a5cb8" stroke-width="1.1" />
<line x1="653.90" y1="330.48" x2="658.90" y2="330.48" stroke="#8a5cb8" stroke-width="1.1" />
<path d="M649.76,328.31 L655.04,328.31 L652.40,332.80 Z" fill="#8a5cb8"/>
<path d="M653.76,321.99 L659.04,321.99 L656.40,326.48 Z" fill="#8a5cb8"/>
<path d="M657.76,326.73 L663.04,326.73 L660.40,331.22 Z" fill="#8a5cb8"/>
<path d="M649.26,325.15 L654.54,325.15 L651.90,329.64 Z" fill="#8a5cb8"/>
<path d="M658.26,327.52 L663.54,327.52 L660.90,332.01 Z" fill="#8a5cb8"/>
<path d="M654.76,325.94 L660.04,325.94 L657.40,330.43 Z" fill="#8a5cb8"/>
<line x1="587.60" y1="310.70" x2="587.60" y2="390.80" stroke="#1c1c1c" stroke-width="1.3" />
<line x1="587.00" y1="390.20" x2="668.90" y2="390.20" stroke="#1c1c1c" stroke-width="1.3" />
<line x1="584.60" y1="390.20" x2="587.60" y2="390.20" stroke="#1c1c1c" stroke-width="1.2" />
<text x="582.60" y="392.70" font-size="7.1" text-anchor="end" font-weight="normal" fill="#222" style="">0</text>
<line x1="584.60" y1="374.40" x2="587.60" y2="374.40" stroke="#1c1c1c" stroke-width="1.2" />
<text x="582.60" y="376.90" font-size="7.1" text-anchor="end" font-weight="normal" fill="#222" style="">10</text>
<line x1="584.60" y1="358.60" x2="587.60" y2="358.60" stroke="#1c1c1c" stroke-width="1.2" />
<text x="582.60" y="361.10" font-size="7.1" text-anchor="end" font-weight="normal" fill="#222" style="">20</text>
<line x1="584.60" y1="342.80" x2="587.60" y2="342.80" stroke="#1c1c1c" stroke-width="1.2" />
<text x="582.60" y="345.30" font-size="7.1" text-anchor="end" font-weight="normal" fill="#222" style="">30</text>
<line x1="584.60" y1="327.00" x2="587.60" y2="327.00" stroke="#1c1c1c" stroke-width="1.2" />
<text x="582.60" y="329.50" font-size="7.1" text-anchor="end" font-weight="normal" fill="#222" style="">40</text>
<line x1="584.60" y1="311.20" x2="587.60" y2="311.20" stroke="#1c1c1c" stroke-width="1.2" />
<text x="582.60" y="313.70" font-size="7.1" text-anchor="end" font-weight="normal" fill="#222" style="">50</text>
<text x="628.75" y="303.00" font-size="7.6" text-anchor="middle" fill="#333"><tspan font-style="italic">P</tspan> <tspan dx="1.3">&lt;</tspan><tspan dx="1.3"> 0.0001</tspan></text>
<line x1="599.90" y1="305.40" x2="656.40" y2="305.40" stroke="#2a2a2a" stroke-width="1.35" />
<text x="648.00" y="314.90" font-size="7.6" text-anchor="middle" fill="#333"><tspan font-style="italic">P</tspan> <tspan dx="1.3">&lt;</tspan><tspan dx="1.3"> 0.0001</tspan></text>
<line x1="637.70" y1="318.20" x2="656.40" y2="318.20" stroke="#2a2a2a" stroke-width="1.35" />
<text x="621.30" y="326.80" font-size="7.6" text-anchor="middle" fill="#333"><tspan font-style="italic">P</tspan> <tspan dx="1.3">&lt;</tspan><tspan dx="1.3"> 0.0001</tspan></text>
<line x1="599.90" y1="329.50" x2="637.70" y2="329.50" stroke="#2a2a2a" stroke-width="1.35" />
<text x="610.90" y="338.70" font-size="7.6" text-anchor="middle" fill="#333"><tspan font-style="italic">P</tspan> = 0.0003</text>
<line x1="599.90" y1="341.40" x2="619.20" y2="341.40" stroke="#2a2a2a" stroke-width="1.35" />
<text x="0" y="0" font-size="10.45" text-anchor="middle" fill="#111" transform="translate(566.00 350.60) rotate(-90)">IFN-γ<tspan font-size="6.5" dy="-3.5">+</tspan><tspan dy="3.5"> (% of CD8</tspan><tspan font-size="6.5" dy="-3.5">+</tspan><tspan dy="3.5">)</tspan></text>
<line x1="551.60" y1="449.00" x2="560.00" y2="449.00" stroke="#2e5cbe" stroke-width="1.3" />
<path d="M553.30,449.00 L555.80,446.50 L558.30,449.00 L555.80,451.50 Z" fill="#2e5cbe"/>
<text x="562.30" y="452.50" font-size="10.30" fill="#111">IgG</text>
<line x1="551.60" y1="459.50" x2="560.00" y2="459.50" stroke="#cc2038" stroke-width="1.3" />
<circle cx="555.80" cy="459.50" r="2.5" fill="#cc2038"/>
<text x="562.30" y="463.00" font-size="10.30" fill="#111"><tspan font-style="italic">Aebp1</tspan> cKO</text>
<line x1="551.60" y1="470.00" x2="560.00" y2="470.00" stroke="#177040" stroke-width="1.3" />
<path d="M553.30,470.00 L555.80,467.50 L558.30,470.00 L555.80,472.50 Z" fill="#177040"/>
<text x="562.30" y="473.50" font-size="10.30" fill="#111">Anti-PD-1</text>
<line x1="551.60" y1="480.50" x2="560.00" y2="480.50" stroke="#8a5cb8" stroke-width="1.3" />
<path d="M553.30,480.50 L555.80,478.00 L558.30,480.50 L555.80,483.00 Z" fill="#8a5cb8"/>
<text x="562.30" y="484.00" font-size="10.30" fill="#111"><tspan font-style="italic">Aebp1</tspan> cKO+Anti-PD-1</text>
<path d="M586.20,585.40 V569.80 H598.00 V585.40" fill="none" stroke="#2e5cbe" stroke-width="1.4"/>
<line x1="592.10" y1="571.88" x2="592.10" y2="567.72" stroke="#2e5cbe" stroke-width="1.1" />
<line x1="589.60" y1="567.72" x2="594.60" y2="567.72" stroke="#2e5cbe" stroke-width="1.1" />
<line x1="589.60" y1="571.88" x2="594.60" y2="571.88" stroke="#2e5cbe" stroke-width="1.1" />
<circle cx="588.10" cy="572.40" r="2.2" fill="#2e5cbe"/>
<circle cx="592.10" cy="564.60" r="2.2" fill="#2e5cbe"/>
<circle cx="596.10" cy="569.80" r="2.2" fill="#2e5cbe"/>
<circle cx="587.60" cy="569.80" r="2.2" fill="#2e5cbe"/>
<circle cx="596.60" cy="571.10" r="2.2" fill="#2e5cbe"/>
<circle cx="593.10" cy="575.00" r="2.2" fill="#2e5cbe"/>
<path d="M604.90,585.40 V554.20 H616.70 V585.40" fill="none" stroke="#cc2038" stroke-width="1.4"/>
<line x1="610.80" y1="555.76" x2="610.80" y2="552.64" stroke="#cc2038" stroke-width="1.1" />
<line x1="608.30" y1="552.64" x2="613.30" y2="552.64" stroke="#cc2038" stroke-width="1.1" />
<line x1="608.30" y1="555.76" x2="613.30" y2="555.76" stroke="#cc2038" stroke-width="1.1" />
<rect x="604.71" y="554.71" width="4.18" height="4.18" fill="#cc2038"/>
<rect x="608.71" y="549.51" width="4.18" height="4.18" fill="#cc2038"/>
<rect x="612.71" y="552.11" width="4.18" height="4.18" fill="#cc2038"/>
<rect x="604.21" y="552.11" width="4.18" height="4.18" fill="#cc2038"/>
<rect x="613.21" y="553.41" width="4.18" height="4.18" fill="#cc2038"/>
<rect x="609.71" y="553.41" width="4.18" height="4.18" fill="#cc2038"/>
<path d="M623.80,585.40 V558.10 H635.60 V585.40" fill="none" stroke="#177040" stroke-width="1.4"/>
<line x1="629.70" y1="559.40" x2="629.70" y2="556.80" stroke="#177040" stroke-width="1.1" />
<line x1="627.20" y1="556.80" x2="632.20" y2="556.80" stroke="#177040" stroke-width="1.1" />
<line x1="627.20" y1="559.40" x2="632.20" y2="559.40" stroke="#177040" stroke-width="1.1" />
<circle cx="625.70" cy="559.40" r="2.2" fill="#177040"/>
<circle cx="629.70" cy="555.50" r="2.2" fill="#177040"/>
<circle cx="633.70" cy="558.10" r="2.2" fill="#177040"/>
<circle cx="625.20" cy="558.10" r="2.2" fill="#177040"/>
<circle cx="634.20" cy="559.40" r="2.2" fill="#177040"/>
<circle cx="630.70" cy="559.40" r="2.2" fill="#177040"/>
<path d="M642.10,585.40 V541.20 H653.90 V585.40" fill="none" stroke="#8a5cb8" stroke-width="1.4"/>
<line x1="648.00" y1="544.32" x2="648.00" y2="538.08" stroke="#8a5cb8" stroke-width="1.1" />
<line x1="645.50" y1="538.08" x2="650.50" y2="538.08" stroke="#8a5cb8" stroke-width="1.1" />
<line x1="645.50" y1="544.32" x2="650.50" y2="544.32" stroke="#8a5cb8" stroke-width="1.1" />
<path d="M641.36,536.75 L646.64,536.75 L644.00,541.24 Z" fill="#8a5cb8"/>
<path d="M645.36,535.45 L650.64,535.45 L648.00,539.94 Z" fill="#8a5cb8"/>
<path d="M649.36,536.75 L654.64,536.75 L652.00,541.24 Z" fill="#8a5cb8"/>
<path d="M640.86,535.45 L646.14,535.45 L643.50,539.94 Z" fill="#8a5cb8"/>
<path d="M649.86,538.05 L655.14,538.05 L652.50,542.54 Z" fill="#8a5cb8"/>
<path d="M646.36,552.35 L651.64,552.35 L649.00,556.84 Z" fill="#8a5cb8"/>
<line x1="579.60" y1="506.90" x2="579.60" y2="586.00" stroke="#1c1c1c" stroke-width="1.3" />
<line x1="579.00" y1="585.40" x2="660.30" y2="585.40" stroke="#1c1c1c" stroke-width="1.3" />
<line x1="576.60" y1="585.40" x2="579.60" y2="585.40" stroke="#1c1c1c" stroke-width="1.2" />
<text x="574.60" y="587.90" font-size="7.1" text-anchor="end" font-weight="normal" fill="#222" style="">0</text>
<line x1="576.60" y1="559.40" x2="579.60" y2="559.40" stroke="#1c1c1c" stroke-width="1.2" />
<text x="574.60" y="561.90" font-size="7.1" text-anchor="end" font-weight="normal" fill="#222" style="">10</text>
<line x1="576.60" y1="533.40" x2="579.60" y2="533.40" stroke="#1c1c1c" stroke-width="1.2" />
<text x="574.60" y="535.90" font-size="7.1" text-anchor="end" font-weight="normal" fill="#222" style="">20</text>
<line x1="576.60" y1="507.40" x2="579.60" y2="507.40" stroke="#1c1c1c" stroke-width="1.2" />
<text x="574.60" y="509.90" font-size="7.1" text-anchor="end" font-weight="normal" fill="#222" style="">30</text>
<text x="620.50" y="507.50" font-size="7.6" text-anchor="middle" fill="#333"><tspan font-style="italic">P</tspan> <tspan dx="1.3">&lt;</tspan><tspan dx="1.3"> 0.0001</tspan></text>
<line x1="592.10" y1="510.10" x2="648.00" y2="510.10" stroke="#2a2a2a" stroke-width="1.35" />
<text x="639.50" y="520.40" font-size="7.6" text-anchor="middle" fill="#333"><tspan font-style="italic">P</tspan> = 0.0001</text>
<line x1="629.70" y1="523.30" x2="648.00" y2="523.30" stroke="#2a2a2a" stroke-width="1.35" />
<text x="611.40" y="531.10" font-size="7.6" text-anchor="middle" fill="#333"><tspan font-style="italic">P</tspan> = 0.0071</text>
<line x1="592.10" y1="534.00" x2="629.70" y2="534.00" stroke="#2a2a2a" stroke-width="1.35" />
<text x="602.20" y="543.30" font-size="7.6" text-anchor="middle" fill="#333"><tspan font-style="italic">P</tspan> = 0.0010</text>
<line x1="592.10" y1="545.30" x2="610.80" y2="545.30" stroke="#2a2a2a" stroke-width="1.35" />
<text x="0" y="0" font-size="10.45" text-anchor="middle" fill="#111" transform="translate(561.00 545.60) rotate(-90)">TNF-α<tspan font-size="6.5" dy="-3.5">+</tspan><tspan dy="3.5"> (% of CD8</tspan><tspan font-size="6.5" dy="-3.5">+</tspan><tspan dy="3.5">)</tspan></text></svg></body></html>
